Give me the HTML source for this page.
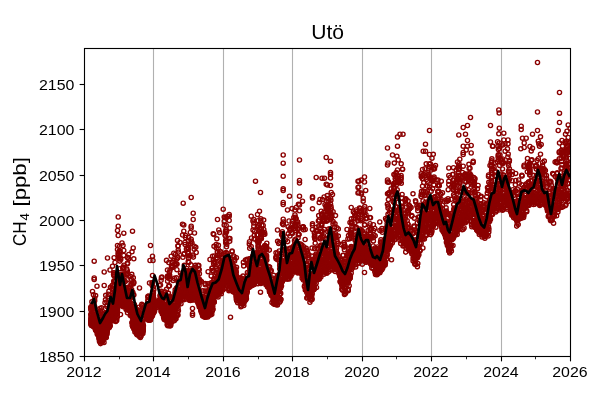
<!DOCTYPE html><html><head><meta charset="utf-8"><title>Uto</title><style>html,body{margin:0;padding:0;background:#fff}svg{display:block;will-change:transform}text{font-family:"Liberation Sans",sans-serif;fill:#000}</style></head><body>
<svg width="600" height="400" viewBox="0 0 600 400">
<rect width="600" height="400" fill="#fff"/>
<defs><marker id="m" markerUnits="userSpaceOnUse" markerWidth="8" markerHeight="8" refX="4" refY="4" viewBox="0 0 8 8"><circle cx="4" cy="4" r="2.08" fill="none" stroke="#8b0000" stroke-width="1.39"/></marker><clipPath id="c"><rect x="84.5" y="48.5" width="486" height="308"/></clipPath></defs>
<line x1="153.5" y1="48.5" x2="153.5" y2="356.5" stroke="#b0b0b0" stroke-width="1.11"/>
<line x1="223.5" y1="48.5" x2="223.5" y2="356.5" stroke="#b0b0b0" stroke-width="1.11"/>
<line x1="292.5" y1="48.5" x2="292.5" y2="356.5" stroke="#b0b0b0" stroke-width="1.11"/>
<line x1="362.5" y1="48.5" x2="362.5" y2="356.5" stroke="#b0b0b0" stroke-width="1.11"/>
<line x1="431.5" y1="48.5" x2="431.5" y2="356.5" stroke="#b0b0b0" stroke-width="1.11"/>
<line x1="501.5" y1="48.5" x2="501.5" y2="356.5" stroke="#b0b0b0" stroke-width="1.11"/>
<g clip-path="url(#c)"><polyline fill="none" stroke="none" marker-start="url(#m)" marker-mid="url(#m)" marker-end="url(#m)" points="473.1,204.6 415.0,260.9 250.3,276.0 413.3,244.8 208.1,271.7 545.8,202.9 136.6,312.3 302.6,276.7 515.8,219.1 425.2,220.2 442.7,212.2 196.2,295.2 129.7,288.3 218.4,283.0 481.9,230.0 152.7,310.6 134.6,326.0 377.7,250.4 379.2,263.7 503.4,174.9 536.4,175.5 540.4,204.5 328.0,263.9 219.2,253.5 307.3,277.3 524.0,198.2 253.6,277.3 93.0,316.8 123.3,296.3 175.2,289.7 302.1,278.3 162.7,310.4 233.3,272.9 224.5,273.2 215.6,290.2 322.2,261.0 192.3,283.0 208.7,305.4 177.0,292.4 504.2,180.4 176.1,305.7 451.8,186.5 190.9,275.3 455.1,211.9 210.2,302.5 131.3,279.3 387.1,235.9 397.5,182.1 174.2,305.9 209.6,313.8 129.4,308.0 510.4,211.4 296.2,271.4 387.2,253.8 95.3,327.4 272.3,291.6 223.0,269.8 118.5,281.3 171.5,308.1 205.8,298.9 266.6,284.3 333.9,255.3 226.2,285.5 225.8,261.2 131.6,297.3 321.7,256.4 512.0,180.7 148.0,300.1 449.3,222.4 257.0,272.9 94.9,320.9 293.4,265.2 511.6,211.1 132.5,318.0 322.8,250.7 321.4,262.1 429.8,222.8 221.9,263.5 414.3,218.2 257.3,271.3 459.1,216.7 112.7,304.7 229.9,283.0 117.3,293.1 456.6,226.7 91.3,317.0 135.1,307.6 462.9,202.5 173.8,253.2 346.7,273.4 294.9,245.4 168.8,316.9 214.0,246.3 564.0,191.9 428.1,217.6 437.5,201.7 440.8,200.9 175.7,319.1 511.6,193.8 512.9,192.4 454.0,225.2 386.4,259.3 242.2,303.5 123.1,306.8 516.0,218.1 175.8,308.1 161.1,307.6 169.4,285.7 511.3,211.0 327.8,231.7 254.1,281.9 569.9,176.2 352.5,264.7 236.1,294.3 266.4,260.2 424.4,239.0 148.3,319.5 454.3,209.8 318.5,270.0 300.4,243.9 159.3,306.2 293.4,256.4 457.3,231.2 388.0,214.3 111.6,307.1 196.0,279.5 191.0,264.9 561.3,195.7 112.0,320.6 193.9,297.1 105.7,331.0 403.9,213.1 256.3,267.9 108.0,322.0 295.3,263.1 269.4,289.5 196.7,282.9 421.5,191.4 316.4,278.2 142.9,333.5 379.9,272.7 333.1,211.7 524.9,204.3 555.4,206.2 479.0,215.1 269.9,278.7 320.4,260.5 163.0,308.3 378.7,268.3 197.3,300.7 494.6,204.5 403.3,226.8 553.7,194.9 398.6,226.5 546.0,197.2 487.2,234.6 181.7,274.9 193.0,293.6 502.6,158.9 249.7,259.1 419.9,242.9 299.4,259.2 485.1,236.4 252.3,271.8 124.9,304.3 319.8,251.4 350.1,277.9 266.3,279.1 510.9,200.0 309.7,277.2 559.2,198.7 309.3,296.9 453.2,174.5 128.1,287.3 478.6,206.0 163.5,315.1 150.5,318.1 223.2,261.5 107.2,329.5 377.0,274.8 547.3,196.3 172.0,316.2 447.7,244.0 216.0,258.4 543.1,184.7 550.2,203.7 249.3,243.9 182.8,275.7 169.4,296.3 192.1,275.1 117.8,303.1 558.9,191.4 275.0,297.7 294.3,248.8 397.7,233.1 337.8,258.7 249.4,287.2 259.2,255.1 325.4,263.5 108.5,294.2 307.9,292.1 242.5,288.2 209.3,290.3 275.6,283.1 288.6,263.8 425.3,212.8 486.6,203.5 230.9,281.3 152.7,305.6 450.7,249.0 297.6,257.8 151.0,316.0 333.0,256.0 432.4,205.9 122.5,298.2 326.6,259.8 115.4,290.2 558.8,207.1 171.8,307.5 529.9,172.6 174.5,315.1 260.7,236.8 113.4,297.0 266.7,249.8 149.1,311.4 174.0,315.8 523.5,189.9 113.7,299.9 122.0,274.8 437.2,222.6 264.9,278.4 462.0,217.8 514.0,202.4 175.2,293.4 479.3,206.6 275.7,298.5 404.5,237.5 90.8,321.9 232.0,275.6 123.7,289.6 122.4,287.8 546.6,178.3 163.4,310.5 250.8,269.2 422.9,248.0 228.6,275.2 256.6,255.2 440.6,216.1 312.3,284.2 310.2,289.5 446.7,221.2 298.1,237.7 361.2,192.9 380.6,271.0 446.4,211.1 478.5,219.5 539.5,198.9 291.9,228.5 405.1,214.2 125.8,306.8 236.2,272.2 168.4,310.3 409.3,208.7 147.9,296.5 211.8,282.7 171.1,320.6 480.8,231.5 207.6,308.2 128.9,294.6 432.7,188.6 387.4,234.1 499.0,189.5 237.4,280.7 503.6,205.9 212.0,299.3 160.2,302.2 536.1,194.4 361.4,252.5 310.0,290.3 283.9,250.4 261.3,277.3 512.4,171.7 149.9,318.7 315.1,275.7 370.1,233.0 404.9,234.7 441.5,226.9 431.2,229.6 463.6,216.1 373.4,224.7 268.6,282.9 139.0,326.2 94.9,327.0 234.5,269.5 311.0,283.7 364.8,259.0 347.8,270.5 495.5,195.5 327.3,266.2 553.6,202.2 502.3,196.0 100.5,325.4 282.3,279.6 324.7,250.9 123.7,304.6 186.9,287.9 528.5,198.8 254.3,254.9 409.6,237.6 107.5,320.5 120.5,294.5 294.7,269.6 373.5,257.5 226.5,272.4 446.9,239.4 557.2,173.6 154.3,304.1 136.8,317.5 92.9,318.7 362.3,264.2 522.1,176.1 289.4,256.2 315.7,260.7 353.2,260.2 119.7,300.6 458.6,227.6 279.7,288.7 404.6,224.2 230.3,281.4 278.6,290.3 209.3,301.3 374.5,254.0 382.4,232.3 213.1,309.3 304.8,271.9 96.9,316.3 464.3,192.5 521.1,212.3 230.5,262.1 264.2,277.2 283.0,235.2 267.8,279.9 448.4,244.9 418.5,216.9 301.7,263.4 215.7,295.7 504.5,201.4 478.7,218.4 190.5,243.7 385.7,228.0 289.1,275.0 351.7,230.4 358.9,242.5 446.7,234.1 121.3,282.5 170.0,326.0 259.8,282.6 210.2,299.5 362.3,259.3 114.1,315.0 443.4,217.8 291.9,250.0 120.7,286.9 445.2,220.9 362.4,236.6 241.2,282.2 116.6,319.0 219.0,274.9 202.3,302.1 362.3,231.1 229.9,284.3 175.3,264.5 195.6,267.4 445.8,224.5 539.0,197.9 519.8,205.9 233.2,275.7 336.6,248.1 149.3,319.4 389.2,247.9 228.3,259.8 377.5,248.7 355.2,240.5 452.9,224.7 91.5,321.6 163.5,314.0 385.6,250.6 364.6,215.8 519.4,212.5 459.0,206.8 252.1,282.0 206.1,308.0 219.4,282.8 392.0,219.8 147.9,301.3 255.8,266.2 147.8,307.8 488.3,207.1 490.6,195.2 213.1,271.2 391.5,227.0 188.5,277.9 370.5,261.9 240.1,302.0 339.9,275.8 131.8,274.4 160.3,307.6 451.7,216.0 522.9,196.5 299.7,266.9 567.3,169.5 227.0,275.2 197.5,281.4 386.2,243.2 373.8,251.7 340.4,281.2 103.4,326.5 121.8,288.4 493.0,187.5 388.0,229.5 240.9,306.8 366.2,255.6 511.4,213.8 138.4,328.5 184.8,290.7 248.8,284.6 262.4,261.8 351.8,238.0 216.8,279.3 245.3,297.8 550.7,196.6 305.3,290.1 167.9,308.6 200.8,300.1 283.8,270.9 150.4,318.9 318.5,273.3 511.9,214.3 540.1,199.6 392.1,223.1 129.3,301.5 404.6,244.3 400.3,230.4 442.1,230.2 554.5,212.9 152.9,298.8 345.2,246.3 499.7,194.5 460.9,220.1 538.9,194.5 404.0,234.8 194.4,282.2 130.1,304.1 265.6,246.0 117.3,313.9 314.7,266.4 331.4,235.0 202.8,298.3 393.2,217.3 442.4,205.2 212.3,310.9 189.6,295.0 308.1,284.7 118.8,297.9 290.5,263.0 131.1,294.4 566.0,204.3 123.9,303.0 232.2,281.3 273.1,296.9 489.0,219.4 521.7,211.4 372.5,255.1 116.0,304.7 171.9,308.5 547.7,210.2 169.2,322.2 381.0,266.0 444.5,225.3 153.9,298.8 279.6,302.2 307.4,297.3 99.0,331.7 539.0,196.7 367.6,241.0 408.5,243.4 551.4,185.3 356.2,256.9 259.8,252.2 177.9,281.5 375.7,265.6 445.9,212.2 363.7,239.4 494.1,200.8 159.4,303.3 481.3,231.0 540.3,174.9 273.2,289.5 376.7,256.9 215.3,290.9 435.6,205.1 277.9,290.3 318.7,265.4 527.5,202.4 114.1,281.7 459.9,182.9 92.5,291.5 454.2,207.9 326.6,258.3 251.9,270.4 236.1,296.7 397.1,224.7 443.1,221.3 214.5,280.0 459.6,210.0 559.3,158.7 364.0,258.5 250.6,280.9 162.1,298.9 392.4,239.7 164.3,311.6 161.4,299.0 411.0,245.6 116.5,310.5 420.3,236.1 185.3,270.5 493.4,208.3 103.0,333.5 153.2,305.3 258.3,277.5 556.4,209.6 220.5,284.0 209.3,286.8 373.4,254.7 178.0,315.1 358.4,256.1 192.1,295.4 188.9,262.5 344.4,286.7 518.1,214.0 346.7,276.4 122.4,295.6 465.3,189.2 127.3,279.9 227.4,271.4 114.5,298.1 286.6,262.3 396.0,226.3 484.2,236.6 269.2,280.8 184.8,296.1 115.1,291.1 421.8,205.4 300.2,272.7 367.3,258.0 321.2,244.9 349.3,265.6 481.9,227.4 234.2,275.4 441.7,226.2 220.8,276.7 455.8,229.9 384.6,244.6 317.9,277.6 439.5,205.7 121.5,290.4 433.9,220.2 201.3,303.4 475.1,212.4 185.1,283.7 332.5,233.1 133.2,325.5 362.5,256.8 528.1,197.5 198.1,303.4 366.0,261.9 538.5,172.1 95.9,328.7 273.7,289.2 375.4,269.9 552.4,190.2 135.9,328.5 273.1,285.3 299.8,272.1 174.2,320.7 426.7,193.0 305.3,255.7 538.3,158.7 319.6,274.2 263.8,266.1 293.0,268.5 191.6,292.9 167.1,316.1 119.7,283.8 256.7,253.7 417.7,231.6 433.9,207.2 406.3,237.5 99.8,329.4 272.7,291.1 151.8,311.8 169.7,312.8 432.3,216.7 189.4,300.2 192.2,289.0 269.7,285.5 479.1,227.3 262.0,272.9 284.2,270.2 518.6,214.9 387.9,226.5 98.6,335.6 201.2,301.7 289.4,273.6 559.0,196.0 527.9,183.0 357.8,249.6 507.6,199.4 525.5,207.6 566.6,163.4 409.6,241.4 321.4,271.6 431.7,201.5 546.9,208.4 313.0,280.7 421.7,230.6 113.3,302.8 369.8,256.6 236.4,296.0 230.7,280.7 379.2,263.3 569.6,158.4 508.6,203.1 132.8,322.2 528.7,182.0 458.2,226.7 449.2,246.0 234.6,275.2 163.9,308.3 267.5,275.5 175.2,295.5 209.9,294.9 119.5,301.0 283.8,258.6 205.6,315.7 250.3,286.6 142.2,332.6 97.7,328.3 410.2,245.1 220.3,269.9 544.0,200.5 148.3,306.9 458.4,176.1 266.1,277.9 107.6,318.0 258.2,220.7 98.9,334.3 324.4,248.9 193.8,269.0 457.4,224.7 370.4,256.3 492.5,214.5 188.7,278.3 274.0,299.4 508.5,171.8 220.5,284.4 405.1,219.3 95.9,318.6 246.2,282.0 398.4,194.9 529.8,174.5 122.2,302.4 328.6,228.9 433.6,224.9 97.5,325.2 515.7,173.4 208.1,307.1 295.9,254.1 258.6,269.8 224.0,277.3 176.4,299.6 280.3,300.9 192.7,289.1 149.9,318.2 485.7,230.2 215.6,286.6 213.1,300.4 298.8,234.6 388.5,249.8 192.3,282.6 323.6,236.0 470.0,193.2 378.3,252.3 250.6,276.6 305.2,267.4 314.0,289.3 277.2,298.6 142.9,305.6 213.4,301.5 356.9,257.9 266.3,271.2 225.1,282.2 234.3,270.6 195.3,277.9 274.9,303.3 146.9,309.6 146.6,315.4 233.4,292.1 254.4,259.7 559.1,193.4 105.3,330.2 495.4,195.5 143.0,327.1 277.1,290.5 470.4,215.6 320.3,264.4 222.8,270.6 553.7,196.5 402.1,194.5 102.4,320.5 187.8,286.2 268.4,277.4 447.0,226.8 483.4,230.8 161.2,303.6 115.5,298.7 235.1,274.3 249.2,272.4 276.6,278.0 363.7,252.3 271.7,285.5 194.3,297.1 282.3,271.9 305.5,282.0 353.9,253.0 153.7,311.1 474.7,224.6 207.4,297.8 517.7,214.6 312.2,293.5 97.2,333.9 355.7,235.0 126.3,296.7 332.9,264.7 196.6,295.9 493.8,208.5 453.5,189.2 373.1,257.5 184.7,288.5 338.1,271.2 298.1,269.9 124.7,304.7 541.9,182.9 465.3,191.9 126.2,287.9 291.5,251.2 163.7,306.7 404.6,222.9 536.6,194.2 566.7,152.6 127.1,309.1 202.3,298.2 478.3,227.0 374.0,249.3 269.8,292.1 91.7,318.2 315.2,264.2 166.2,313.2 193.5,296.0 292.9,256.7 104.2,331.6 120.3,304.1 292.0,208.6 137.8,329.3 459.4,217.1 212.7,298.8 565.9,143.2 123.0,303.1 307.2,291.1 229.0,289.3 327.5,254.8 114.5,301.4 109.7,323.0 530.7,196.2 443.2,229.3 460.4,175.2 549.8,198.1 362.3,248.3 380.8,257.7 203.0,315.1 197.0,291.4 351.4,218.8 351.7,261.0 225.4,260.5 215.1,263.6 325.0,249.1 373.0,258.2 288.0,260.2 347.9,257.7 330.9,237.8 96.6,327.3 562.3,182.0 358.1,249.1 482.4,228.2 122.0,295.2 517.2,223.1 216.4,285.8 216.3,295.3 196.5,288.2 209.4,286.0 533.5,197.3 400.3,208.8 167.8,321.8 93.6,316.8 509.1,199.8 174.5,306.8 103.2,320.0 319.7,275.5 307.7,280.3 502.5,162.6 327.0,238.5 93.3,319.3 192.4,287.9 208.9,303.6 277.5,281.1 174.1,307.8 166.8,319.8 165.9,308.4 264.1,267.2 319.2,271.2 502.8,197.1 373.8,262.5 229.6,277.6 161.9,277.1 459.8,191.4 303.4,227.1 306.8,298.1 527.0,187.4 141.2,323.9 125.0,292.1 227.5,279.8 91.4,320.7 342.1,280.0 549.7,215.2 457.8,217.6 240.2,300.6 100.0,308.6 444.2,212.9 505.8,187.2 502.5,162.3 356.0,216.2 378.5,260.2 459.7,179.9 203.6,303.8 147.7,312.8 94.8,315.1 127.6,293.4 264.8,270.8 534.2,199.8 246.4,298.7 105.2,335.3 497.0,184.7 307.5,281.5 397.2,207.2 138.4,333.9 339.9,268.0 229.0,287.0 208.0,304.7 103.5,313.9 322.6,271.8 112.4,312.6 132.4,325.7 391.8,235.8 327.4,250.9 485.5,212.2 121.6,284.7 469.2,211.3 167.7,319.5 111.2,315.3 347.9,262.0 250.4,283.1 199.1,278.9 199.6,296.4 339.2,273.9 196.5,288.9 194.9,288.2 420.6,224.7 328.8,266.9 183.3,281.7 192.7,281.8 136.7,324.2 540.5,154.2 425.8,235.6 134.0,324.4 252.9,280.7 389.5,212.4 285.5,239.9 403.8,232.0 325.5,250.8 280.7,287.9 100.9,328.6 317.4,279.3 221.3,283.4 426.3,218.1 539.4,197.8 107.7,328.9 369.4,261.3 257.0,266.1 528.5,185.6 252.0,258.7 395.5,234.5 411.9,249.0 337.7,266.8 167.0,313.7 488.3,219.4 129.1,309.0 505.8,197.9 503.0,188.5 93.5,326.5 136.8,325.6 132.2,322.9 401.2,207.0 439.9,213.0 120.4,293.6 313.4,289.8 435.0,205.3 509.5,179.4 212.1,310.0 338.3,236.1 549.5,204.8 359.8,247.5 422.9,216.5 530.6,193.7 398.6,232.6 183.2,285.8 369.4,253.5 264.3,267.0 320.1,273.7 391.3,237.8 274.6,289.7 185.1,282.2 392.9,198.3 251.0,282.0 491.6,166.5 293.6,246.2 361.5,194.1 474.3,192.6 317.2,248.6 105.8,328.9 453.0,245.5 168.1,316.9 519.8,210.4 382.6,244.0 502.7,144.9 295.7,270.2 489.5,200.3 161.3,306.1 473.7,201.7 447.3,230.9 529.8,169.7 249.0,286.9 216.1,278.9 239.8,287.3 333.5,252.3 363.8,239.9 152.1,306.9 325.2,245.6 245.7,297.6 536.3,199.4 336.7,253.5 253.4,276.3 140.7,333.6 151.1,317.2 342.4,272.4 411.6,250.6 489.8,212.5 373.4,240.9 245.0,287.0 175.9,318.8 135.2,322.7 429.6,185.9 219.3,292.5 529.7,172.0 101.5,334.2 201.6,309.2 363.9,240.7 199.1,280.6 561.0,168.6 530.0,199.0 91.7,314.8 410.1,234.6 304.4,271.0 218.1,278.5 499.3,128.2 171.8,317.2 149.8,316.2 379.5,263.2 394.4,202.4 464.8,215.3 230.3,263.4 407.7,242.8 452.7,238.5 229.8,228.2 302.0,270.5 165.7,294.3 427.0,205.6 165.7,314.9 304.5,286.0 550.8,219.5 113.3,309.9 374.6,253.1 339.0,267.5 460.5,208.3 381.8,230.2 189.4,298.5 361.1,247.9 235.2,287.3 480.6,204.3 552.0,218.1 135.1,320.5 246.1,295.7 515.4,184.8 109.0,302.9 266.2,274.4 169.6,279.0 132.5,325.7 351.7,232.5 506.9,188.4 290.1,264.6 266.7,282.4 240.8,303.0 559.3,152.7 94.0,304.7 291.3,264.4 393.1,201.5 134.5,320.3 515.5,216.5 139.6,332.7 437.8,185.8 138.5,332.6 566.3,141.3 161.3,302.3 320.5,258.5 308.6,295.2 301.4,272.1 248.6,278.3 349.1,257.1 386.4,255.3 314.3,232.8 414.6,256.0 214.6,292.0 218.7,284.4 117.0,294.6 249.2,277.8 274.3,299.2 533.5,199.6 122.9,286.2 253.9,276.5 400.7,243.5 475.9,226.4 105.4,308.5 202.6,315.9 322.2,236.4 410.5,230.2 486.7,196.7 263.8,273.8 209.1,296.6 324.8,271.3 169.1,310.4 516.7,220.4 433.2,180.5 456.9,212.0 247.4,286.9 257.2,252.3 340.9,273.2 341.7,275.2 366.1,262.2 532.5,201.0 136.1,332.1 169.0,309.4 527.8,204.0 305.6,272.4 217.1,283.1 337.3,263.8 346.0,277.0 413.1,258.3 491.9,158.8 545.4,170.4 185.5,277.2 536.2,198.4 520.6,201.0 376.2,259.3 442.5,192.8 362.9,245.6 521.6,191.0 520.0,200.4 132.1,308.0 261.8,279.8 424.5,195.5 295.5,239.2 361.0,254.8 445.7,237.8 305.3,284.5 115.3,311.8 508.6,190.0 278.4,275.0 415.0,246.4 222.8,288.8 427.9,228.1 176.6,299.1 407.4,238.6 359.0,251.3 299.0,234.6 139.1,330.2 238.5,278.2 433.7,169.0 171.7,314.8 297.0,267.7 461.8,207.1 332.8,234.1 458.7,216.0 357.6,258.5 380.3,267.3 282.4,281.6 173.7,307.2 315.0,281.7 255.3,273.0 114.9,313.6 210.8,292.6 551.6,205.5 292.0,255.4 198.8,300.9 373.1,268.6 303.6,273.0 186.4,294.1 491.7,172.5 359.3,234.5 285.1,260.9 257.8,273.7 564.2,173.1 474.4,213.0 518.6,180.0 216.1,291.6 553.1,208.8 359.0,263.0 109.3,318.9 465.4,222.8 468.2,192.5 150.0,319.9 159.6,301.7 287.6,241.6 512.3,210.0 125.0,303.4 122.9,288.9 451.2,214.1 467.0,209.4 336.0,261.9 322.7,270.4 161.4,293.5 213.7,295.1 503.7,197.5 371.8,264.7 226.8,285.2 181.8,276.2 264.0,278.6 244.3,292.3 148.7,312.3 208.0,283.9 335.6,266.9 457.5,198.8 180.3,295.4 387.1,223.8 285.5,254.4 325.8,255.0 134.6,327.1 567.4,198.2 194.7,286.1 563.7,185.3 240.3,295.2 255.5,279.6 319.9,273.7 319.9,246.2 172.9,310.1 479.9,219.5 220.6,291.9 277.6,277.2 403.9,237.3 167.6,281.2 491.7,203.4 159.2,301.1 509.3,174.8 227.3,269.5 225.3,261.0 473.9,183.1 166.9,311.0 178.6,302.1 503.4,205.0 349.7,238.8 468.2,211.5 95.7,317.6 227.5,265.5 199.3,307.1 473.1,201.9 165.1,305.6 223.9,284.5 419.1,235.3 538.7,203.9 369.1,239.3 122.9,305.4 104.7,325.0 384.4,241.4 279.2,291.7 490.5,219.2 415.3,250.2 403.9,245.6 308.2,289.2 311.1,296.3 260.4,279.1 99.0,336.6 370.2,251.7 392.3,243.0 219.7,255.5 566.6,194.1 210.6,308.3 272.0,294.1 214.8,284.7 173.7,302.4 199.4,273.7 96.8,320.0 109.1,321.7 413.9,226.1 439.6,220.9 328.9,271.6 321.2,248.1 484.7,222.6 457.5,229.6 361.9,254.0 551.6,212.4 358.1,237.8 395.1,229.5 388.0,237.0 387.2,235.1 494.0,204.0 569.2,176.6 484.9,238.3 325.8,266.5 195.7,268.0 147.8,316.3 517.0,219.2 151.4,316.8 241.4,284.8 314.6,237.0 208.8,299.6 489.4,212.6 566.4,164.6 108.5,315.3 294.6,260.1 315.0,260.1 296.0,262.5 474.8,206.9 164.8,296.4 98.6,333.2 249.7,283.8 197.2,301.4 147.0,315.4 448.1,240.0 132.8,313.4 247.5,280.9 229.9,238.6 463.7,201.1 536.8,187.1 330.7,249.1 278.0,281.1 246.4,284.2 113.3,318.6 512.9,189.7 96.0,316.9 442.0,214.2 187.3,293.3 301.0,259.9 252.1,265.1 266.8,243.2 367.5,259.8 309.2,289.0 456.6,218.9 423.6,227.1 210.5,294.8 513.4,195.6 465.6,212.2 215.6,287.3 104.9,329.3 497.1,208.1 95.0,321.9 168.7,312.4 408.6,239.6 148.1,318.9 199.5,292.1 139.0,324.1 179.1,303.1 203.5,305.3 480.6,196.8 210.0,302.5 538.3,141.2 163.0,296.2 382.8,260.0 341.9,289.1 380.5,253.8 260.9,283.5 91.3,317.9 254.4,253.7 176.1,299.1 389.5,230.1 171.2,297.1 356.4,251.1 121.3,296.5 541.8,197.9 188.5,258.3 505.1,151.2 170.7,325.3 515.0,207.6 445.9,213.0 399.8,213.3 316.4,278.5 94.0,320.0 455.4,219.6 436.8,214.1 458.4,225.1 161.3,307.0 463.7,208.1 268.8,287.2 400.0,240.6 161.1,280.3 454.0,218.8 225.8,277.2 435.9,227.2 147.3,312.6 108.4,298.7 417.9,256.2 488.2,235.9 515.4,190.6 453.7,226.4 500.0,154.9 508.1,197.7 397.6,218.8 421.0,218.7 124.4,303.8 322.8,263.2 355.0,253.2 295.3,268.8 506.6,195.1 398.8,217.9 261.8,277.9 462.6,223.6 439.9,208.2 323.4,265.2 356.0,249.8 232.9,290.5 245.5,286.0 137.3,328.9 521.7,207.4 264.0,251.0 283.4,221.9 315.7,260.2 539.1,198.2 176.5,259.2 149.2,319.9 399.6,226.7 309.4,293.3 340.1,273.2 396.1,198.8 458.3,205.6 102.0,341.8 170.9,317.8 297.1,259.1 301.7,248.8 513.7,217.7 150.5,314.0 184.1,279.0 517.3,189.1 160.4,300.7 127.5,312.8 402.2,202.2 413.9,257.5 299.3,264.2 291.0,275.8 481.5,211.1 534.2,184.7 560.8,198.8 170.1,317.2 268.1,268.9 178.0,246.1 182.5,284.1 91.5,317.4 426.3,179.6 98.0,321.4 98.4,332.0 450.7,228.7 347.1,267.2 217.2,291.0 367.1,249.9 257.3,279.0 450.8,213.5 518.7,218.8 91.3,323.6 444.7,222.0 457.5,190.9 220.7,273.4 424.4,229.6 273.7,302.4 232.5,286.9 367.7,239.3 454.7,235.3 526.6,210.5 154.0,309.7 427.9,203.7 362.0,242.0 486.6,208.8 425.5,231.8 194.4,272.5 279.0,255.7 122.8,299.7 405.7,252.1 249.7,258.7 207.9,310.2 487.3,193.1 534.9,204.1 101.9,336.5 478.4,217.7 466.8,217.8 443.3,212.3 160.2,296.2 440.5,207.2 115.8,320.5 262.3,279.9 365.6,258.9 116.8,313.5 335.2,265.6 271.2,294.9 143.1,331.2 159.9,301.3 184.2,293.0 396.5,219.6 167.8,325.8 148.2,315.7 335.6,265.8 208.2,299.7 110.9,312.8 414.9,264.2 526.4,188.0 550.7,209.7 563.5,198.4 285.3,274.8 287.3,279.1 253.6,265.5 543.7,200.1 142.4,331.0 363.2,251.6 261.0,262.1 200.3,305.0 147.3,319.6 109.5,308.5 508.2,198.7 146.8,318.5 101.5,307.9 330.6,255.4 109.5,313.4 301.7,253.2 275.9,294.0 566.4,157.1 551.1,212.3 284.4,272.9 533.6,202.2 171.4,312.4 428.6,228.8 201.2,308.9 206.1,302.9 209.6,300.5 260.2,254.8 278.4,275.8 288.4,278.5 160.9,306.1 139.0,307.2 337.1,260.1 568.1,195.9 142.8,322.5 285.1,264.1 476.2,225.5 506.4,200.2 101.9,338.2 541.4,196.2 161.2,302.7 349.3,274.6 514.7,201.6 104.9,323.2 474.6,187.5 184.9,242.5 411.9,254.1 279.7,268.8 196.3,295.0 188.8,280.6 569.7,164.7 96.8,323.3 361.0,258.0 244.3,292.7 150.5,297.8 301.7,251.8 545.3,190.1 440.1,216.4 216.3,266.6 287.3,262.0 385.2,265.1 199.7,290.7 164.3,304.2 384.4,260.3 244.9,287.8 124.1,273.9 117.9,298.1 498.5,198.6 97.0,331.7 388.0,208.1 109.1,308.8 507.3,197.4 210.0,312.3 249.8,274.3 333.6,260.9 318.4,272.1 235.4,273.9 566.7,160.1 133.6,295.1 382.2,245.9 329.4,254.7 231.2,279.9 387.1,219.2 550.8,220.7 447.7,229.8 400.8,231.1 263.8,282.5 368.9,238.5 213.8,293.2 398.0,228.1 401.9,214.1 151.2,309.7 257.7,277.9 167.4,307.1 264.8,245.4 122.6,282.6 416.4,246.8 284.7,277.2 135.1,330.1 341.4,277.2 396.3,215.4 238.9,295.9 285.3,275.6 160.4,300.4 236.2,290.3 265.6,279.6 485.2,234.8 197.5,295.2 447.4,227.6 162.1,310.2 214.8,284.3 431.6,213.6 422.9,178.6 93.1,325.4 445.1,230.3 482.3,220.5 444.6,233.1 537.9,203.1 215.0,261.5 479.9,206.4 152.6,311.7 130.0,294.4 138.5,316.5 166.3,305.7 463.9,217.7 371.1,238.3 203.6,312.2 110.2,325.8 135.6,311.2 220.6,284.9 223.3,284.0 490.7,206.9 365.1,252.1 295.5,259.3 205.9,309.4 376.1,249.3 478.7,230.0 350.5,268.4 110.1,315.2 535.4,193.1 127.9,300.6 490.8,208.0 201.3,312.1 356.6,245.5 379.0,259.3 538.1,187.6 166.1,313.5 268.8,275.0 100.3,341.4 243.7,265.9 437.8,192.1 371.8,267.9 243.1,290.1 418.8,236.6 149.6,315.1 132.1,322.2 119.6,268.7 474.0,209.1 330.4,241.1 136.7,329.6 400.2,235.8 406.2,248.4 512.3,207.5 388.3,206.1 355.5,247.0 310.3,281.5 216.2,244.6 209.2,309.3 437.7,195.7 491.3,177.5 194.8,289.0 358.4,251.4 132.3,323.3 502.7,198.9 555.3,188.7 99.5,332.7 502.6,163.5 497.8,196.6 266.3,278.3 277.6,259.7 97.8,332.6 337.8,270.0 269.3,250.1 269.7,284.4 173.1,280.4 377.6,259.7 215.5,286.3 567.7,183.3 395.6,206.4 185.9,292.0 500.9,174.0 286.8,275.5 208.9,312.3 240.9,283.0 381.8,264.3 338.4,270.7 496.2,197.6 139.0,311.7 103.2,331.2 373.9,234.9 423.2,218.9 498.4,206.8 315.3,277.2 405.5,243.7 264.6,270.0 489.0,210.2 400.6,234.9 422.5,218.2 302.6,271.4 277.6,241.3 367.6,250.8 152.2,313.7 322.7,267.8 358.8,242.5 347.6,254.3 383.1,249.8 117.3,311.4 237.7,302.7 341.6,272.5 190.8,280.1 473.8,226.2 232.3,263.3 546.6,206.0 105.5,330.6 380.3,259.4 505.8,204.8 339.6,273.4 348.8,251.8 130.2,302.2 189.2,297.4 507.7,183.6 326.2,272.2 429.2,216.6 417.8,246.9 175.2,316.9 110.3,310.4 101.8,322.8 201.7,303.5 469.3,213.7 162.9,297.6 190.6,270.9 188.4,281.5 179.6,281.9 148.1,297.6 534.7,198.4 236.5,275.9 143.1,308.0 323.4,263.6 345.9,259.5 382.6,249.0 420.1,250.7 180.9,297.7 299.6,270.4 178.0,305.5 171.3,322.8 409.4,243.8 359.9,228.9 195.8,281.0 252.3,285.5 172.0,312.4 385.0,254.0 121.0,284.8 243.9,285.0 492.6,184.2 480.0,225.1 193.3,287.6 218.1,296.9 221.9,269.5 189.5,276.6 283.0,261.3 240.1,290.1 127.3,300.5 453.3,235.8 210.8,300.1 150.4,315.3 260.8,270.5 204.7,317.3 281.5,286.0 138.4,332.9 127.5,302.9 124.9,301.3 168.5,317.1 130.5,297.7 179.1,281.1 268.5,283.8 529.1,205.3 539.7,188.0 459.8,224.5 278.4,277.2 447.6,239.6 250.6,276.3 112.5,316.2 306.1,283.7 503.5,209.4 176.7,306.6 152.6,306.2 305.8,283.4 236.5,267.3 93.1,325.8 473.1,212.7 101.2,327.2 148.7,311.8 294.5,250.6 442.3,220.9 145.8,307.4 149.2,303.9 258.1,244.9 529.6,195.0 306.5,284.8 309.9,302.3 542.7,162.5 348.6,279.3 118.2,255.5 105.0,337.7 299.1,262.1 203.3,312.3 399.8,235.1 354.3,256.7 225.3,280.3 106.3,332.2 425.3,227.2 152.5,298.2 122.7,287.9 394.8,239.7 564.2,198.6 462.1,201.7 106.7,332.9 441.2,213.5 250.1,268.2 122.0,292.3 289.0,221.0 168.3,316.0 216.1,293.7 278.5,277.0 503.8,198.9 480.8,200.0 209.2,302.2 446.3,201.8 537.0,181.2 458.4,223.8 438.6,199.1 171.3,311.8 127.7,310.1 333.3,245.0 133.8,310.3 400.4,218.4 331.8,216.5 481.7,229.9 399.0,224.9 320.6,237.5 564.8,193.0 308.2,268.2 222.4,257.3 518.6,197.6 136.9,326.1 546.4,204.0 425.2,202.4 149.1,308.8 284.4,275.8 541.5,199.1 349.3,279.3 549.3,216.9 210.1,294.4 356.1,239.9 188.1,273.3 394.2,187.8 180.4,297.8 186.3,293.8 95.6,295.6 300.3,256.0 274.4,283.3 562.7,194.0 498.9,210.0 191.4,282.1 512.5,212.7 241.8,288.5 546.3,184.0 125.2,296.6 451.6,221.0 266.8,283.9 261.9,279.3 207.1,305.6 459.7,202.6 304.5,286.8 332.0,248.6 375.3,262.5 130.3,307.3 230.1,284.8 379.6,268.9 258.9,280.8 97.5,327.5 325.8,243.1 109.9,326.0 437.9,209.7 200.0,281.7 161.2,309.2 288.9,272.1 376.9,251.8 395.4,182.7 351.8,254.8 408.9,228.1 483.5,232.5 374.8,228.5 251.3,284.5 529.1,183.5 540.5,175.1 409.3,248.3 408.3,240.7 201.2,296.4 247.4,272.5 540.4,188.7 188.0,280.0 228.9,274.4 308.8,255.0 463.4,216.7 434.7,206.5 125.5,300.7 416.3,257.1 285.4,278.5 453.3,185.0 567.0,199.5 331.1,244.9 350.2,278.1 534.2,193.7 139.8,312.5 253.0,276.1 458.7,201.3 105.3,337.0 153.8,303.6 192.8,276.6 356.3,248.2 503.3,186.4 484.1,205.0 111.9,319.7 243.4,289.5 552.9,215.0 558.5,199.6 227.3,267.5 354.2,254.3 160.5,285.0 311.9,290.8 300.4,264.7 261.9,259.2 191.7,298.9 376.9,269.5 151.1,313.3 238.0,298.3 279.3,251.0 556.9,196.9 338.0,265.6 173.2,305.5 101.4,332.4 394.9,236.3 250.4,276.5 114.1,285.0 224.3,275.4 128.2,305.8 242.7,304.1 447.7,244.6 561.9,168.1 398.6,235.0 331.9,240.2 319.1,279.3 382.0,269.5 306.6,264.3 212.3,295.9 295.1,243.8 502.9,196.2 173.6,313.5 562.7,196.7 389.6,236.9 249.9,265.8 262.8,264.4 99.0,322.4 415.2,254.0 554.3,216.3 232.2,280.4 462.2,229.7 504.2,177.2 119.4,292.3 324.7,268.4 515.7,191.3 348.5,278.9 201.5,311.1 142.1,322.2 347.9,269.4 510.1,204.1 419.7,239.1 108.9,322.5 431.5,232.9 252.9,279.4 151.4,314.3 256.4,276.4 133.3,327.2 464.4,214.9 280.6,277.7 288.3,274.7 241.9,300.1 529.7,188.4 486.0,225.5 242.1,296.5 257.5,276.2 440.7,211.7 366.4,260.6 497.6,195.5 246.8,289.4 290.4,267.4 334.4,245.6 527.3,171.7 370.0,236.4 205.1,315.9 192.6,291.6 200.7,309.2 392.7,235.7 362.9,250.1 207.5,300.5 551.7,219.4 217.6,285.0 459.8,159.2 128.5,308.3 336.8,239.6 135.1,328.5 256.7,269.8 431.1,212.3 560.8,207.4 446.7,232.5 208.4,291.7 365.8,238.8 98.0,320.6 296.0,255.3 134.3,317.2 321.9,215.5 181.0,303.8 421.0,237.5 262.4,275.7 370.3,234.6 409.0,237.8 163.6,317.2 369.5,254.1 91.6,306.2 380.0,265.6 536.3,180.4 452.3,235.2 248.5,263.0 335.5,233.8 518.2,224.6 228.7,270.9 263.7,220.1 321.8,232.5 413.2,233.5 276.5,301.6 140.1,335.8 330.1,257.3 121.4,296.0 324.2,248.4 391.1,236.2 216.4,268.4 124.0,265.2 392.1,234.0 257.4,278.1 454.4,227.8 476.9,230.0 468.5,173.8 389.4,234.9 365.3,256.1 250.1,278.0 425.1,223.6 132.3,307.3 402.2,230.5 265.5,256.1 286.7,274.8 170.6,307.3 121.7,301.7 355.4,260.1 385.2,257.0 131.1,285.1 190.4,300.5 206.3,311.5 529.0,204.9 353.1,264.9 323.9,274.2 274.8,290.8 361.0,255.6 492.4,196.0 226.7,283.0 211.5,307.1 468.4,180.4 234.5,271.0 281.4,280.4 497.3,195.9 440.5,219.4 259.6,273.2 167.3,321.9 253.5,284.3 377.2,253.5 545.6,202.4 462.5,217.4 248.4,286.7 126.0,297.1 445.0,235.0 96.3,326.0 450.9,237.7 474.5,213.5 218.5,272.9 454.0,220.6 189.5,295.1 140.3,329.4 162.7,306.2 523.9,215.4 297.1,253.0 235.4,292.8 175.9,295.3 122.1,299.5 138.8,319.6 106.8,314.2 108.1,316.2 311.7,295.4 225.7,268.5 486.1,204.2 500.6,201.1 126.0,306.8 153.3,306.8 436.6,207.1 525.0,208.1 472.6,203.2 422.3,232.4 191.8,296.3 153.8,312.4 227.2,253.4 120.5,275.6 190.9,294.7 538.8,168.9 178.4,310.7 506.8,207.4 510.4,199.0 468.6,208.4 473.7,216.6 347.8,267.0 168.3,325.2 121.9,293.8 294.4,270.9 527.6,205.0 328.3,246.8 295.6,248.8 237.9,283.8 262.8,279.0 225.5,273.5 101.0,337.8 419.4,217.2 199.1,285.8 412.5,241.3 512.4,211.8 466.0,203.1 107.9,315.2 558.1,209.4 320.4,231.5 134.0,318.9 202.9,310.5 206.0,315.0 270.8,292.6 286.0,272.1 204.3,312.1 224.5,261.4 439.1,199.7 416.2,231.9 357.6,249.2 271.2,288.7 219.3,293.0 283.0,261.2 508.5,204.8 115.2,297.9 332.0,243.8 327.2,267.1 142.1,315.6 139.1,327.7 501.6,206.0 283.0,243.2 217.3,295.4 412.7,245.4 422.9,213.6 190.5,285.3 295.2,264.2 339.9,276.6 544.4,194.7 362.9,246.0 133.3,322.3 243.3,301.8 164.6,304.3 357.6,253.0 493.4,210.1 217.4,293.0 292.0,269.5 305.4,276.1 100.8,322.6 149.9,317.5 276.6,303.5 324.8,253.9 338.3,228.9 300.4,263.7 99.9,328.9 351.9,228.9 164.5,313.2 208.7,312.9 541.6,200.2 454.6,232.4 319.0,257.5 244.8,295.6 382.3,247.7 149.9,311.9 526.7,211.8 463.1,229.2 295.1,250.8 364.6,225.0 236.9,296.9 568.6,163.7 292.3,273.5 373.7,259.0 249.6,277.8 374.7,256.4 124.7,303.0 136.0,319.5 300.2,262.5 511.3,196.5 167.0,313.1 111.4,310.5 548.3,210.3 402.9,229.4 342.5,283.8 290.8,269.0 91.6,322.0 263.1,271.6 279.5,242.3 263.4,255.3 221.3,293.7 370.8,257.4 195.3,289.7 162.0,306.3 502.5,168.9 383.4,257.8 296.8,260.5 435.5,206.2 188.6,253.5 311.6,286.0 310.1,292.6 220.5,285.5 202.7,314.2 488.8,232.0 301.1,267.5 121.0,288.4 134.9,331.9 195.5,291.9 99.2,329.2 536.3,169.1 129.9,305.0 543.2,193.6 385.6,218.5 128.0,308.6 266.6,281.4 397.0,211.2 398.6,210.3 350.4,275.8 559.4,202.2 565.8,177.7 186.2,299.0 366.0,214.7 568.7,193.2 162.0,300.7 379.8,221.9 479.8,218.2 108.3,317.3 104.0,336.8 269.9,287.3 282.0,269.4 365.0,211.1 392.1,229.3 510.3,205.7 203.1,305.0 210.3,290.3 208.1,302.2 102.7,338.2 270.1,291.0 223.9,266.4 413.2,251.4 390.4,238.0 109.3,313.3 193.8,300.0 377.6,247.0 263.8,249.9 280.4,285.0 361.3,243.0 475.0,227.4 299.9,253.3 301.5,248.8 429.5,206.1 455.3,199.4 453.7,187.2 365.4,245.7 570.1,128.2 228.8,282.3 181.7,293.8 345.5,293.5 297.4,261.9 178.6,297.1 330.5,256.8 107.3,322.5 533.4,175.3 408.7,250.1 521.8,184.8 127.3,305.2 105.5,324.2 271.2,270.5 403.1,234.2 271.5,291.6 507.4,195.8 170.2,319.6 554.2,188.7 354.4,257.2 455.5,234.5 119.9,290.0 225.4,281.2 257.0,253.9 386.4,239.1 459.7,183.3 102.6,328.4 214.7,262.1 206.3,297.5 243.5,280.9 98.1,327.5 165.5,310.7 558.8,191.9 196.0,272.3 521.6,201.7 415.3,260.2 168.0,320.9 357.5,252.7 343.1,261.7 446.1,212.4 169.1,314.8 435.0,196.8 539.3,189.2 377.1,260.4 300.0,250.8 545.7,191.1 423.5,220.6 307.9,289.3 183.2,286.0 522.9,215.9 387.4,204.3 289.4,266.4 211.6,307.2 525.0,198.0 504.3,185.4 502.5,162.3 316.5,275.2 489.8,211.0 534.2,188.7 199.3,298.7 441.4,223.6 204.6,304.1 469.8,199.6 359.2,233.1 554.9,189.0 460.7,208.7 324.1,270.5 170.2,323.1 417.9,239.0 353.9,237.0 441.4,213.7 389.9,237.3 187.8,274.9 232.6,276.9 534.7,178.7 370.9,263.4 391.0,231.9 235.9,269.5 153.6,307.0 121.4,281.6 442.8,227.8 149.9,309.8 240.3,296.9 169.3,305.6 492.6,201.3 118.2,306.7 477.4,221.6 373.7,259.4 344.2,246.6 198.3,279.6 140.2,324.4 502.5,210.3 102.4,336.7 485.9,230.8 271.2,291.0 179.9,296.6 152.5,303.5 110.1,306.6 331.0,238.8 93.0,326.3 206.7,313.9 130.2,310.6 478.0,224.6 388.6,193.2 427.8,209.6 225.5,236.1 206.6,294.9 235.1,286.6 466.2,199.8 371.7,249.3 304.3,256.3 381.2,256.9 382.6,266.9 229.2,288.5 198.9,292.8 273.9,300.7 206.4,309.7 329.0,265.3 414.1,255.6 238.0,300.4 392.9,191.3 111.8,297.9 188.2,261.7 513.9,212.2 164.7,305.7 188.3,278.9 166.5,289.3 325.6,244.9 423.1,206.6 385.1,239.1 312.4,285.7 488.8,202.4 424.4,214.0 408.1,224.4 147.1,314.5 157.2,307.3 111.9,308.8 127.5,263.8 306.7,270.4 199.5,301.3 140.4,337.5 242.5,294.4 198.6,268.7 277.6,291.2 179.5,291.9 112.8,289.1 333.6,237.9 312.0,299.4 507.7,205.6 123.1,297.7 105.8,324.8 282.3,272.5 545.1,204.8 292.7,257.8 508.6,171.0 516.9,210.8 489.3,215.5 475.1,194.2 556.0,207.2 245.7,300.0 316.4,262.8 388.2,232.0 291.4,255.0 179.7,285.4 294.3,245.3 340.5,260.0 515.8,180.4 200.1,300.4 389.2,247.0 168.5,311.0 409.1,241.3 498.4,149.5 347.2,278.6 485.1,226.7 365.3,248.5 447.4,234.9 296.0,270.8 516.9,208.4 396.6,219.5 375.1,247.9 238.0,285.4 393.7,209.5 240.6,295.4 511.0,208.0 359.5,251.8 424.0,231.3 93.3,323.4 91.2,315.3 217.3,282.8 123.3,292.7 126.9,303.4 388.2,243.6 134.5,325.4 205.5,301.7 114.2,280.7 280.0,280.0 398.7,212.7 523.6,217.4 497.6,141.7 119.9,303.4 496.2,198.6 105.6,323.3 403.5,217.0 187.1,291.9 559.3,151.7 332.1,251.2 450.6,231.0 356.2,254.5 153.7,300.9 316.7,276.2 468.3,193.9 159.5,303.9 409.8,245.9 566.0,166.8 224.1,275.5 231.1,268.3 92.4,318.9 95.6,330.3 195.7,279.2 542.9,196.7 496.4,200.0 507.6,182.2 106.9,306.4 350.9,253.3 325.4,239.4 445.7,230.4 289.9,266.3 522.4,212.4 275.0,304.1 154.9,307.4 167.6,324.6 357.9,236.4 123.0,290.5 444.4,230.7 223.2,273.2 550.0,211.3 108.2,318.3 211.2,276.1 153.2,303.5 227.9,281.8 318.8,255.4 486.3,226.1 425.0,195.2 269.9,282.4 141.4,326.0 495.1,172.1 195.3,291.2 381.4,248.5 259.9,266.1 453.3,185.6 327.3,220.8 463.9,193.1 365.7,190.4 453.7,204.6 265.0,264.5 243.7,294.3 305.7,283.6 117.7,305.1 255.0,267.0 561.9,164.6 196.3,287.0 198.6,295.7 101.3,329.7 350.6,267.7 213.9,292.5 409.5,236.8 120.7,297.2 124.0,297.6 340.9,244.6 199.5,299.9 377.0,249.4 176.7,288.4 121.1,299.6 449.2,227.6 501.6,208.7 544.1,192.6 122.8,287.3 437.8,203.4 361.1,229.8 119.4,290.2 142.9,318.6 517.1,211.9 491.2,197.9 501.8,197.6 215.4,285.6 130.2,315.3 193.8,291.4 206.0,317.1 266.8,272.2 367.4,252.3 203.5,316.2 518.6,219.3 253.6,255.1 293.8,263.9 446.1,207.8 505.5,185.0 151.0,312.8 130.9,303.5 297.8,273.0 302.4,271.5 321.6,214.1 404.1,243.3 166.0,300.7 524.7,197.8 542.5,165.6 294.3,266.1 203.0,310.1 417.8,263.5 227.3,272.9 294.6,257.5 133.3,308.2 423.6,214.4 351.5,258.2 263.6,273.0 181.8,297.5 481.0,233.1 448.7,214.8 473.5,221.5 454.4,214.6 152.1,316.2 359.9,257.5 100.3,322.5 468.3,209.9 197.4,295.0 453.4,190.1 328.9,260.4 560.2,178.1 366.2,239.8 329.0,257.6 370.0,252.3 413.4,247.5 551.0,206.1 106.4,329.0 468.3,217.4 507.1,209.1 348.3,282.0 282.1,277.2 165.1,313.7 204.3,315.6 108.0,296.8 497.7,192.9 501.1,194.1 138.6,327.0 301.4,267.5 168.9,320.3 142.0,320.5 253.8,276.4 234.3,286.6 386.5,220.0 395.9,238.0 290.3,270.2 533.3,200.5 464.5,208.4 375.5,274.4 220.9,272.0 436.9,212.6 161.8,310.5 302.8,257.3 457.7,223.7 125.2,281.6 479.3,234.4 222.4,264.4 140.5,331.5 261.6,282.7 430.3,163.8 528.4,199.8 281.1,266.6 441.3,181.2 229.7,282.3 496.9,199.3 124.7,294.5 195.6,269.4 346.2,274.4 242.2,292.8 248.2,279.1 180.1,285.5 499.9,191.6 161.1,311.5 267.5,287.0 136.5,312.0 111.7,312.1 325.7,268.5 402.5,206.7 446.1,200.0 437.1,212.9 286.5,269.5 287.4,252.5 99.0,325.3 516.7,226.1 239.6,297.6 283.9,273.4 222.9,290.0 236.9,288.1 426.8,220.8 483.1,214.4 230.6,271.3 109.6,318.9 534.0,184.8 298.1,229.4 371.2,255.5 220.9,277.9 231.1,275.7 102.2,327.5 549.4,209.2 349.9,248.2 295.9,252.8 127.7,257.4 224.6,270.3 316.2,253.9 564.5,185.4 248.0,279.9 236.2,285.3 90.8,309.8 395.9,216.7 304.1,267.4 564.9,179.5 558.7,193.1 268.6,286.7 235.2,282.1 214.2,301.9 197.0,273.9 340.0,268.6 509.8,202.8 251.6,264.4 112.7,315.2 132.8,292.2 357.6,235.6 202.5,303.2 160.8,300.2 153.6,306.8 200.1,304.3 141.8,333.8 117.5,312.8 527.3,162.4 450.7,226.6 253.1,278.6 265.1,279.3 453.6,180.2 171.3,316.6 188.1,277.1 334.6,247.7 115.8,321.5 241.5,305.9 363.9,260.8 168.9,312.0 445.2,214.5 442.7,229.8 117.5,309.7 395.5,218.3 482.2,219.5 405.8,229.5 561.1,186.4 330.8,264.9 512.8,213.7 409.0,205.8 335.6,237.9 407.3,243.5 216.8,283.6 307.2,279.9 178.6,300.7 355.1,255.2 141.5,329.4 267.0,269.6 531.6,181.1 170.5,310.5 329.8,256.5 104.0,342.4 372.2,264.0 483.7,218.8 112.4,285.2 105.9,320.2 404.9,232.2 403.3,221.6 208.9,300.6 481.2,218.3 281.0,299.5 515.6,214.0 118.8,279.2 184.8,278.9 252.2,279.9 344.5,294.5 267.0,274.9 450.5,248.5 491.5,172.4 407.2,210.6 164.9,291.8 129.9,307.1 159.4,300.0 433.6,222.8 423.0,221.1 456.3,208.3 201.7,310.5 230.6,258.9 499.6,165.4 336.9,227.7 116.8,294.4 219.7,283.6 492.1,200.9 185.1,285.8 313.7,286.1 140.7,322.8 152.3,309.3 443.7,218.8 314.2,287.4 121.0,275.2 437.8,211.3 100.8,319.3 106.7,324.1 322.2,267.8 491.3,215.1 421.1,196.6 292.3,266.2 455.9,213.6 435.3,216.0 159.4,301.9 460.2,222.7 292.3,221.2 244.0,301.3 261.9,262.9 472.1,206.8 98.3,332.7 544.8,178.6 455.8,233.5 381.7,242.0 109.5,319.9 360.5,236.1 261.5,280.6 116.3,317.9 387.0,248.9 106.9,302.0 326.9,273.3 240.3,277.8 210.4,304.9 525.4,199.7 315.8,276.4 166.7,315.1 421.0,227.1 170.9,297.8 209.6,305.8 351.4,236.2 122.5,303.4 471.5,224.8 477.5,230.1 348.1,274.8 179.2,285.9 376.5,261.5 325.9,256.1 569.2,195.9 445.6,237.2 236.8,281.4 199.4,301.4 191.5,275.4 194.4,278.1 256.3,275.4 453.8,217.3 155.0,308.8 275.2,278.7 100.2,323.2 142.0,323.9 170.5,325.5 379.7,258.1 302.3,274.8 428.9,216.3 513.0,203.7 359.2,257.0 474.8,223.2 103.0,334.5 558.9,205.4 309.1,296.5 382.1,266.3 314.5,237.0 270.8,293.7 478.1,231.6 222.5,280.5 444.4,233.8 565.7,176.6 287.7,271.1 334.7,248.2 103.2,329.1 174.3,278.4 345.9,279.6 252.6,256.2 313.9,289.5 271.4,295.4 327.5,220.3 208.1,297.1 348.5,235.4 255.8,260.3 103.3,339.9 222.6,273.1 113.2,294.7 365.5,247.4 283.8,264.1 503.7,182.9 174.7,317.3 152.3,310.4 392.5,238.9 439.4,223.2 524.0,208.8 426.3,214.8 268.4,284.5 237.0,287.0 210.4,295.5 120.4,294.2 232.7,291.3 109.4,310.8 285.9,266.8 525.9,185.8 290.1,248.3 313.3,283.0 566.4,165.1 428.7,219.4 546.0,203.2 95.4,325.0 359.2,252.1 320.1,272.2 214.1,279.0 255.7,275.8 366.8,258.0 397.2,196.7 359.1,257.3 115.9,311.3 445.8,213.5 183.8,283.1 198.9,301.3 161.4,277.7 265.4,265.4 320.3,238.9 201.1,303.7 98.8,333.8 211.8,314.3 164.3,301.4 269.0,270.2 211.8,306.6 280.2,277.0 225.1,268.6 309.8,295.9 426.2,173.7 235.8,279.6 216.2,280.5 530.1,163.2 294.2,258.9 414.8,263.3 174.0,320.4 111.8,310.8 139.5,325.2 96.2,330.5 392.7,218.0 279.8,282.6 462.7,198.7 117.4,289.2 199.9,300.5 116.3,296.3 98.9,338.4 301.7,272.5 359.8,253.8 173.6,309.0 357.5,245.9 340.8,278.0 284.6,272.8 130.8,309.9 349.2,274.5 347.0,273.6 400.2,210.0 272.9,294.0 184.3,265.4 264.0,278.4 544.2,195.7 318.1,254.3 124.4,303.4 124.1,297.3 187.9,284.9 94.3,325.2 327.8,246.2 298.2,257.7 528.6,196.3 191.3,286.5 298.0,243.3 432.0,231.1 429.5,187.4 136.5,333.8 105.5,326.9 150.5,306.8 334.8,237.2 487.4,229.7 205.6,313.0 520.6,218.5 276.1,291.6 475.8,198.7 329.4,263.0 534.1,202.0 223.4,281.9 193.1,283.4 492.3,207.7 525.1,204.3 338.4,259.7 109.8,306.3 559.5,180.3 519.9,215.9 264.0,278.0 476.3,199.4 386.5,239.6 376.4,273.6 349.2,262.0 207.8,303.6 449.0,245.9 462.8,204.4 458.5,220.3 543.2,168.9 371.1,263.1 106.5,326.6 164.6,294.3 370.3,252.2 176.8,287.7 150.5,319.9 241.9,278.2 560.3,196.0 476.8,228.6 566.9,174.9 137.2,331.8 546.5,175.6 508.3,163.2 148.1,314.9 231.9,290.8 428.0,209.9 505.2,180.3 544.7,203.5 433.3,154.3 196.7,295.1 379.2,261.9 496.3,210.6 198.1,265.4 276.2,286.6 91.7,308.0 95.8,319.6 294.5,240.8 310.3,283.9 295.4,230.4 523.4,206.3 495.4,175.7 219.6,232.4 442.4,229.4 302.8,271.6 252.1,273.4 428.7,224.0 412.5,253.3 371.2,264.8 255.5,264.4 201.4,281.5 103.0,337.7 110.7,308.1 108.3,315.6 504.3,189.5 102.0,339.3 170.2,324.7 477.3,206.7 149.0,311.2 288.6,254.2 415.1,257.2 389.3,220.5 475.5,223.9 243.4,262.4 450.7,245.2 554.4,212.1 490.9,204.1 108.9,291.2 467.7,206.6 207.3,311.4 168.7,286.3 146.6,316.2 329.9,239.1 370.9,260.8 539.3,199.0 221.0,267.0 429.6,222.4 98.0,321.4 531.3,180.3 236.4,289.2 220.3,291.8 442.4,208.7 238.3,288.1 90.7,307.4 303.7,249.7 551.4,201.9 99.6,338.9 206.7,298.5 229.2,267.3 536.7,203.2 418.7,247.8 450.7,221.5 114.6,306.2 325.8,260.3 206.7,312.8 329.5,231.3 561.6,161.4 310.5,295.7 251.9,279.3 189.5,288.0 480.1,207.4 361.2,218.6 493.3,185.5 129.2,308.6 441.8,215.2 151.6,302.3 332.4,254.9 113.0,314.4 377.2,271.6 172.6,316.9 180.5,273.2 477.8,214.3 538.1,198.2 511.7,194.5 396.9,156.2 391.4,237.0 360.3,259.4 129.3,306.5 203.9,310.2 406.5,245.4 247.2,276.0 300.0,261.5 113.9,313.6 354.2,247.2 128.4,302.5 308.1,294.9 149.2,315.6 227.1,274.7 423.4,219.1 146.9,311.4 286.4,271.9 257.6,263.9 459.5,168.4 457.9,199.1 116.8,311.1 228.9,290.7 225.3,257.7 303.6,275.4 304.4,275.4 105.0,313.8 417.8,252.1 148.8,318.8 506.4,187.1 118.5,300.4 537.2,194.1 128.7,306.2 473.8,207.4 441.9,219.0 191.2,272.2 171.2,318.0 282.4,267.1 193.6,296.7 119.6,294.8 505.8,205.8 199.8,299.0 91.6,323.1 329.4,267.1 303.2,265.0 199.2,292.5 93.2,321.0 121.0,296.0 501.4,207.4 562.8,206.2 261.8,252.7 219.0,285.1 355.8,264.6 268.4,287.3 371.0,255.4 437.8,213.2 91.8,321.2 453.8,209.6 360.6,251.0 498.6,180.0 211.3,284.8 152.2,315.6 191.8,300.1 285.5,248.8 358.6,236.0 499.4,185.9 244.2,300.0 215.4,283.5 513.4,216.3 508.4,181.0 119.3,291.2 142.7,328.2 394.4,212.8 229.3,284.3 154.1,308.4 250.0,282.9 153.0,307.3 404.3,223.5 475.5,203.5 199.1,283.1 94.6,310.5 214.1,282.9 338.6,268.4 430.9,232.3 211.0,283.0 374.5,257.0 538.4,176.7 303.2,274.4 553.7,214.2 159.8,300.1 102.1,332.2 306.4,250.2 351.9,226.2 280.3,273.3 266.2,276.6 127.8,304.7 204.9,303.9 464.1,228.0 325.4,261.3 522.6,215.3 143.3,328.7 368.0,251.4 278.9,285.4 267.9,271.9 141.6,331.0 312.3,288.4 262.4,273.6 513.7,214.8 379.9,230.5 107.1,330.9 227.5,281.3 359.2,244.4 205.8,302.7 422.3,227.4 160.8,299.6 278.4,297.8 314.5,288.0 91.3,325.5 207.7,311.3 453.0,238.8 474.1,218.4 283.0,250.3 454.3,224.8 449.4,251.4 289.3,248.9 168.6,303.6 408.3,245.8 488.9,229.3 163.7,310.9 232.1,251.7 476.9,230.2 288.1,226.8 299.1,268.5 112.3,315.6 438.4,215.2 429.4,214.9 216.5,288.6 317.9,278.2 393.9,174.6 393.2,230.7 124.2,298.3 245.8,292.6 475.8,202.6 418.1,227.6 123.1,304.9 262.7,265.1 331.3,245.5 387.0,227.3 278.4,280.5 265.6,275.1 137.2,314.5 93.9,312.7 466.2,207.1 95.5,322.5 305.7,289.1 100.5,310.8 482.2,232.8 289.6,263.4 489.4,212.1 444.3,220.7 541.2,197.9 205.9,315.1 528.7,197.0 133.7,294.9 451.4,251.1 345.5,278.2 210.8,313.1 330.7,260.8 267.6,270.2 475.2,195.7 423.0,200.9 273.0,300.6 488.8,216.6 216.9,294.7 415.1,240.4 99.8,334.5 258.9,271.5 547.7,201.9 136.1,330.9 150.5,301.4 200.1,306.6 170.5,306.9 367.5,260.4 388.2,244.2 174.4,312.2 545.2,203.4 488.3,207.9 96.4,326.2 415.7,230.8 117.7,305.6 341.9,277.3 136.9,314.5 513.4,208.4 192.8,293.3 173.6,315.0 545.8,201.8 209.3,303.3 393.4,184.8 98.5,330.8 221.2,289.2 322.6,249.5 150.9,311.2 364.7,253.5 213.6,297.8 344.4,278.8 186.4,292.2 319.2,266.1 285.4,261.1 113.1,306.1 180.7,293.2 442.1,223.1 290.9,267.3 274.6,284.6 410.8,248.6 220.7,262.4 100.0,336.8 400.4,220.4 99.0,323.3 273.7,275.4 115.5,280.8 97.2,324.4 266.0,264.8 364.5,253.8 316.5,287.5 342.9,255.3 390.5,245.4 236.9,278.1 377.6,262.7 240.2,283.0 214.0,278.7 149.0,316.2 137.8,321.6 182.9,257.3 441.0,217.4 275.0,303.4 397.2,189.8 428.9,230.1 141.8,304.4 557.1,189.5 459.7,213.4 505.2,186.4 154.6,311.0 423.3,191.5 214.1,291.0 146.7,305.4 465.4,218.4 529.6,168.7 401.1,225.5 187.9,283.2 220.3,289.2 430.0,206.0 164.2,319.6 343.7,279.5 289.1,263.2 253.6,253.1 141.8,333.2 512.1,202.3 276.1,304.7 314.6,248.7 123.1,298.4 92.7,308.7 260.7,279.1 334.7,257.4 360.8,220.8 342.1,276.1 544.6,174.9 434.3,210.8 163.8,313.1 178.9,290.7 383.9,242.8 238.6,292.8 263.7,247.0 149.8,305.7 446.4,242.2 133.3,277.8 410.7,231.5 93.8,303.2 484.8,235.3 548.3,216.4 98.3,320.2 529.0,201.5 178.6,299.8 310.8,265.2 150.9,310.3 527.8,205.6 394.3,163.1 106.6,331.0 334.4,261.5 470.0,200.3 201.8,296.9 238.4,283.9 168.9,276.7 334.4,258.0 138.5,334.5 551.0,182.0 302.9,258.1 224.8,274.6 232.2,278.8 223.6,260.0 489.9,208.5 190.3,232.4 173.8,312.0 482.4,235.1 475.9,224.9 311.5,274.9 265.1,262.3 117.3,303.4 291.8,232.7 460.1,187.8 556.6,215.8 333.1,269.9 186.4,277.1 123.6,280.3 98.3,313.3 390.6,236.2 342.5,286.9 202.4,306.3 358.6,259.9 268.4,277.9 429.9,225.0 380.7,263.5 119.6,275.0 95.4,325.7 372.8,265.5 238.5,297.4 447.7,230.4 546.7,199.1 310.7,278.4 485.3,221.3 548.9,197.2 333.9,264.9 106.0,325.6 490.7,211.4 205.8,302.3 132.1,316.3 124.8,304.0 105.9,323.9 177.5,299.8 216.1,272.8 566.9,194.9 288.0,270.2 329.4,237.1 308.1,290.7 425.8,234.5 557.1,178.3 247.1,278.6 159.3,285.2 502.5,163.5 312.7,260.8 514.8,215.6 542.4,187.3 536.1,197.2 499.7,174.8 341.0,274.9 131.9,306.6 510.9,208.6 289.4,270.4 125.9,303.6 418.2,254.1 223.3,277.8 107.1,333.9 305.2,278.2 426.7,231.4 258.3,249.1 182.6,235.0 218.2,293.8 500.5,203.6 136.6,309.3 274.4,299.9 499.6,189.9 136.0,328.7 527.5,158.5 564.4,198.2 262.8,282.0 430.2,214.5 130.4,295.6 211.3,297.5 368.1,230.4 99.6,334.7 539.8,205.5 260.3,258.0 171.3,301.4 369.9,217.5 494.8,199.3 143.0,319.3 239.1,293.5 199.5,299.4 303.5,229.8 409.1,240.7 343.1,283.3 387.1,255.6 213.3,259.7 199.4,297.1 113.7,312.6 424.4,216.5 282.0,272.0 247.6,283.5 115.2,296.0 557.5,184.0 505.4,199.4 356.7,259.8 475.3,199.5 138.6,331.8 405.4,240.2 221.0,281.7 382.9,246.7 110.4,320.8 102.5,340.4 160.0,302.3 241.0,280.2 275.7,280.3 548.0,209.1 265.9,284.7 370.5,254.9 170.5,299.9 320.9,276.9 277.9,292.2 225.9,233.1 432.7,198.5 541.0,196.5 557.8,198.9 178.6,281.4 406.8,242.6 303.4,280.0 269.3,285.0 263.8,253.0 348.2,290.7 326.3,257.5 211.3,297.1 316.6,256.1 370.0,238.5 91.0,319.4 231.6,290.2 413.7,241.6 437.9,191.5 342.3,268.1 241.4,299.5 232.1,250.9 227.5,258.4 149.6,308.3 456.9,219.8 381.9,228.5 188.4,249.0 461.2,218.3 346.0,267.7 129.0,298.8 148.7,316.9 99.2,320.1 512.5,209.4 494.7,206.5 235.1,288.3 299.4,265.7 197.6,272.7 225.7,242.8 474.7,203.7 292.1,268.0 102.3,331.0 189.2,295.9 236.7,300.8 142.9,307.9 252.8,268.3 384.3,252.5 208.2,311.7 187.9,288.9 127.5,295.4 400.8,238.6 128.2,301.3 240.3,303.6 349.9,265.8 94.5,308.8 304.8,277.7 211.7,304.5 139.2,320.5 464.7,222.0 441.2,199.5 348.3,289.4 138.9,316.3 394.1,197.6 491.4,206.7 427.7,201.8 161.3,291.3 130.3,310.2 432.7,225.1 519.3,216.2 324.0,214.7 205.5,295.7 426.7,207.6 235.4,290.8 221.8,280.2 335.2,271.5 557.9,212.1 421.2,243.5 102.8,316.1 220.4,290.2 96.3,323.8 137.6,326.9 264.5,273.8 279.3,257.1 311.6,286.6 451.3,199.3 321.5,224.1 253.8,280.7 188.6,240.8 477.7,223.7 465.0,214.5 250.6,277.5 528.9,201.5 358.1,248.6 165.7,318.5 376.1,258.5 280.2,284.9 423.2,237.9 178.1,308.2 179.9,298.3 169.0,312.8 544.5,200.7 540.2,184.1 188.8,294.4 469.6,202.6 112.8,317.0 111.5,318.0 448.2,235.0 456.6,209.4 222.8,284.4 458.5,216.1 400.8,225.3 417.6,243.3 443.4,232.1 226.7,278.4 472.5,212.8 277.3,293.6 279.7,265.4 523.5,201.5 163.0,295.3 133.3,311.9 195.3,297.9 509.4,168.8 460.0,210.7 182.7,291.2 313.4,273.2 298.4,204.3 388.5,245.9 285.3,263.8 111.1,312.8 531.4,196.7 292.6,260.4 402.5,207.3 128.2,291.3 166.5,260.4 245.0,292.1 92.0,307.7 142.9,329.1 449.3,240.1 202.4,300.5 373.2,245.9 305.1,278.5 403.3,242.1 273.8,304.1 235.8,278.8 108.3,327.0 376.3,270.8 231.4,281.7 461.7,222.6 280.7,293.4 103.4,330.2 288.5,266.5 333.2,230.6 289.3,277.1 302.7,249.2 110.5,317.8 362.1,214.2 339.7,265.9 118.8,278.4 455.9,200.8 370.9,251.0 348.4,276.4 102.3,341.9 224.3,281.3 468.8,179.4 570.0,180.2 90.9,319.9 111.2,307.4 277.3,284.2 185.5,290.3 210.3,306.4 477.4,211.8 361.8,242.8 506.7,194.2 258.1,252.4 389.5,245.4 205.1,316.1 221.3,270.1 256.5,260.2 501.9,196.2 187.8,271.8 495.6,196.0 423.2,151.2 211.3,291.4 421.2,194.5 127.3,305.7 251.5,269.3 150.6,315.6 340.7,269.2 91.2,324.5 440.3,217.1 466.6,193.0 475.2,214.8 109.1,318.3 264.4,256.8 348.6,265.3 131.1,284.6 148.3,316.7 395.1,222.9 478.5,229.8 365.5,250.6 128.5,288.4 421.3,238.1 104.6,334.9 464.8,214.8 101.9,332.9 243.8,305.4 496.0,176.7 413.2,241.8 384.9,256.7 497.5,208.9 258.3,246.2 92.2,323.3 336.4,269.5 561.3,201.1 227.8,269.4 341.9,262.7 492.6,206.8 477.1,218.2 373.4,255.9 106.2,326.4 371.8,254.2 235.2,285.6 344.3,281.6 400.8,216.8 506.7,179.0 119.2,277.5 289.0,272.8 265.9,257.9 484.1,234.9 233.9,288.9 440.7,221.8 492.2,191.4 276.7,285.6 338.8,266.7 540.6,198.2 252.9,220.9 449.3,242.2 357.3,255.9 199.3,281.5 346.4,281.0 418.5,240.2 212.3,307.9 175.3,254.5 508.4,180.7 323.6,255.7 491.8,200.3 528.6,182.0 352.0,265.1 314.4,259.7 513.5,203.0 236.4,257.7 284.3,268.3 314.7,234.8 517.9,202.9 416.1,248.8 413.2,249.1 342.0,260.6 458.8,212.9 509.4,160.2 210.9,289.4 315.6,255.0 363.6,256.4 386.7,249.6 173.2,320.6 399.8,234.0 141.7,306.0 227.4,255.7 562.6,207.1 510.6,203.2 521.3,193.1 233.9,285.2 351.7,222.5 529.3,188.3 256.2,258.9 162.5,307.7 236.0,271.9 94.7,306.7 301.9,274.6 336.2,264.9 507.8,188.1 297.2,265.0 390.2,209.7 151.5,312.6 491.9,214.1 117.0,312.9 257.5,262.2 489.0,215.2 96.7,319.1 168.7,297.9 224.9,255.5 341.3,266.5 365.3,251.2 469.6,217.5 98.9,330.5 370.0,223.7 341.5,282.8 364.6,239.8 336.5,267.9 320.9,246.8 412.7,247.5 217.9,288.0 417.9,232.2 326.1,267.2 359.0,260.4 177.2,311.8 233.5,265.7 422.6,217.3 228.9,283.2 381.0,265.8 493.1,187.2 91.7,314.4 120.3,300.7 154.3,309.2 438.8,211.5 182.2,289.4 110.0,314.9 246.0,295.7 437.0,202.5 283.3,224.8 479.4,215.8 275.2,284.2 283.5,279.1 266.1,268.0 370.1,229.7 251.2,246.5 536.7,184.1 500.1,206.8 169.0,307.3 148.8,316.1 270.9,287.9 566.9,167.2 177.5,301.0 298.5,243.9 439.5,217.2 224.4,265.9 431.5,221.2 318.7,249.1 203.8,307.8 199.1,290.7 153.2,310.4 151.1,299.4 532.5,148.2 186.9,281.1 187.3,297.4 362.3,259.5 287.4,264.3 414.3,226.8 95.0,328.5 453.2,184.2 296.0,267.8 314.3,259.2 107.4,323.2 347.8,255.9 425.3,192.0 207.6,290.9 327.4,249.7 487.1,216.2 256.8,272.0 260.9,282.8 357.8,263.5 166.5,312.2 335.5,215.6 134.6,311.5 324.6,271.9 189.1,299.3 433.4,201.3 136.5,325.8 169.2,296.8 292.0,252.1 279.5,298.1 310.7,300.1 477.2,222.7 274.7,289.3 422.3,224.1 327.2,243.0 160.9,303.0 230.7,279.7 569.6,187.4 364.5,234.0 386.8,243.0 100.6,343.6 561.8,189.6 390.8,242.1 557.6,179.8 272.4,278.0 455.2,229.3 188.1,271.6 248.6,265.5 99.9,333.4 215.5,282.6 227.0,258.8 348.2,273.7 306.4,263.8 308.6,286.7 423.7,210.4 548.6,215.7 152.2,302.5 188.2,294.3 210.7,302.7 106.2,321.2 166.2,301.8 373.5,261.6 563.8,197.2 167.6,276.1 384.1,262.3 130.0,306.4 251.8,278.2 362.3,260.5 389.5,224.6 195.8,247.3 107.5,323.6 433.2,226.5 397.8,229.9 202.2,305.9 91.2,308.0 279.8,262.7 151.9,314.4 199.2,269.7 356.3,211.7 302.5,275.5 174.2,302.8 127.5,306.4 255.9,258.5 493.5,189.3 108.6,317.6 134.4,328.9 263.5,277.5 312.5,277.9 370.4,263.5 344.0,279.9 307.8,268.3 185.1,244.4 368.2,244.1 264.6,279.3 501.0,205.6 405.3,217.4 207.8,306.4 289.5,248.4 555.2,176.4 566.3,150.7 545.1,183.0 222.2,279.2 390.9,231.0 417.5,257.8 484.4,212.5 560.9,189.6 366.1,235.8 267.2,278.6 307.5,265.5 339.2,273.4 359.9,244.7 230.9,261.7 564.1,197.3 480.9,232.1 186.5,290.8 241.6,284.3 149.8,317.0 410.9,250.7 529.9,146.5 344.6,288.6 434.6,219.3 298.1,254.7 138.1,335.0 224.3,288.6 114.9,292.8 340.8,266.1 270.4,281.6 241.4,299.6 445.9,229.8 236.0,293.4 540.6,196.0 355.0,249.2 107.5,315.5 290.3,266.9 142.5,318.5 258.8,281.2 302.7,268.3 474.5,183.1 258.2,247.2 444.6,223.5 395.2,192.4 467.7,208.7 97.5,320.8 361.3,250.4 508.5,165.4 122.3,303.6 521.3,216.3 411.1,229.0 446.8,238.6 92.8,322.3 227.9,276.5 506.2,197.7 292.2,247.5 126.1,309.5 179.2,287.8 550.4,219.9 463.7,213.5 561.2,152.6 336.3,251.1 147.5,313.3 278.7,243.5 117.4,316.8 256.5,277.5 148.2,313.2 160.7,292.7 251.7,269.6 318.8,275.2 366.7,253.3 331.7,236.2 335.9,235.8 482.1,237.0 249.7,248.3 92.9,317.1 560.0,183.9 320.4,265.5 438.0,180.1 188.6,293.2 130.5,312.1 429.3,166.7 299.2,265.0 457.2,234.4 281.3,284.1 131.0,315.7 277.7,253.0 165.5,313.6 419.1,234.0 532.3,165.8 136.9,316.0 468.5,190.0 167.2,324.8 153.7,312.7 422.3,219.0 499.7,198.8 508.2,154.1 365.3,249.6 426.2,226.0 224.3,279.2 122.9,278.4 327.7,254.1 170.5,311.3 207.9,315.7 208.5,310.2 106.8,332.1 205.2,283.5 291.5,272.2 506.1,183.3 148.1,311.5 354.0,258.3 128.9,307.3 438.0,212.5 245.9,296.3 402.9,227.3 434.0,207.0 417.8,210.7 238.6,296.7 393.4,227.1 433.3,211.4 330.4,269.7 513.6,203.7 300.3,258.9 501.1,178.9 248.1,283.5 565.4,181.1 234.6,261.1 549.2,182.6 511.8,205.0 94.0,322.0 153.3,292.4 109.0,310.1 133.0,317.0 383.0,265.7 184.4,253.5 151.6,316.0 433.8,223.6 201.9,313.6 522.2,190.8 530.3,188.5 306.2,248.3 508.5,193.0 550.9,210.1 338.1,256.4 480.8,233.8 150.7,312.0 160.1,295.3 119.6,298.8 193.3,291.0 387.0,228.7 378.4,260.8 150.7,315.4 380.0,255.8 137.0,334.8 545.3,203.5 344.5,293.2 373.4,237.6 402.2,227.4 200.1,301.0 195.5,265.4 289.1,279.0 122.0,301.7 142.4,327.8 234.6,259.2 537.9,178.1 535.9,182.5 134.6,323.2 512.4,204.9 379.2,262.9 107.2,326.3 225.8,265.3 481.0,204.0 329.9,236.3 447.3,243.7 334.9,266.6 385.4,263.1 403.9,227.2 406.7,241.9 218.2,249.2 140.9,328.8 311.5,295.7 397.8,230.6 207.2,314.6 238.7,286.1 540.4,170.9 358.1,233.7 373.5,230.5 479.1,214.4 561.4,150.3 330.8,269.4 511.6,210.0 487.3,229.0 208.4,315.5 550.9,209.4 417.7,208.1 303.3,262.4 474.8,208.8 367.8,236.8 322.4,237.4 523.7,187.5 130.6,295.5 378.6,272.3 477.5,211.5 484.1,207.2 153.4,300.0 317.7,274.1 454.1,219.7 280.5,299.1 151.8,304.0 228.8,282.8 123.9,291.6 568.6,194.8 116.4,301.4 449.6,228.5 264.8,234.3 122.7,295.2 337.2,253.5 475.1,212.5 447.4,240.2 141.1,335.9 272.0,302.5 489.4,217.8 406.2,226.1 99.6,338.2 149.7,313.8 338.5,268.3 441.5,223.5 298.7,227.0 269.6,267.1 491.5,199.4 479.2,227.9 491.5,177.6 199.7,298.3 269.4,291.3 182.0,293.8 203.0,300.1 316.5,267.3 458.6,206.2 305.0,275.0 364.5,209.0 154.8,305.6 214.2,302.2 471.8,226.8 187.5,282.7 281.9,281.7 342.3,289.6 112.8,318.6 108.7,324.7 294.2,255.9 567.0,190.2 331.9,251.4 417.6,248.8 355.5,257.9 507.8,157.0 387.2,241.4 419.4,205.3 448.8,251.1 131.3,295.7 366.3,249.1 342.1,279.5 393.7,213.4 174.7,307.0 266.7,247.1 289.0,255.7 137.2,311.0 138.4,323.6 277.3,276.2 217.6,293.1 361.1,211.9 491.1,197.2 108.3,324.5 169.1,319.1 213.7,300.1 176.9,315.7 530.3,200.3 510.0,203.8 383.9,264.5 450.7,235.8 435.2,218.5 165.9,309.1 315.3,280.2 199.5,306.5 405.7,225.8 509.7,206.4 92.0,323.7 352.5,253.6 324.5,259.0 558.9,199.2 139.4,336.6 176.4,277.9 173.2,303.7 375.6,263.7 229.5,271.3 473.5,211.5 225.4,276.9 335.3,268.6 407.6,240.7 197.2,273.7 402.5,169.2 453.6,194.8 547.7,209.0 493.2,196.6 314.4,272.5 513.4,212.6 554.7,193.4 448.2,228.0 269.4,282.1 283.1,270.6 133.3,317.3 514.4,202.0 193.1,276.8 288.8,256.2 404.8,239.9 209.2,309.8 292.4,255.4 497.8,204.5 217.8,292.6 279.1,289.6 314.7,269.2 286.7,262.6 202.2,312.5 341.1,282.4 116.8,296.1 118.8,296.2 198.4,301.9 221.8,261.4 244.4,301.7 338.9,272.6 498.1,199.1 254.4,284.4 199.0,294.5 263.5,263.0 494.9,202.1 122.8,298.8 499.7,183.9 285.0,262.1 555.0,202.1 549.9,198.5 102.2,334.4 188.2,296.8 141.0,325.7 346.8,282.2 463.5,210.8 287.8,259.2 446.9,228.9 175.4,308.2 507.1,200.8 122.7,282.3 475.3,211.0 466.0,182.1 351.1,234.5 257.6,274.7 176.6,314.9 196.3,293.3 347.1,284.5 265.5,261.3 122.9,285.0 422.9,238.9 388.0,230.9 361.9,259.2 471.5,221.6 106.3,337.6 113.7,302.2 393.0,237.5 364.3,234.0 154.3,310.3 313.2,259.4 303.5,273.7 394.0,188.3 443.2,227.9 455.2,208.5 430.3,178.1 95.7,314.4 185.7,295.7 378.8,261.2 378.8,255.2 352.0,266.4 540.2,189.7 149.2,315.0 509.9,193.6 297.3,272.2 479.5,210.2 113.1,315.0 116.6,286.2 170.5,322.1 124.4,290.5 429.1,211.7 93.0,314.7 106.6,325.3 346.0,266.3 275.9,291.8 210.7,296.0 177.2,315.2 288.2,233.8 547.0,186.7 124.3,299.0 414.8,235.9 210.0,311.8 236.3,299.3 109.1,322.9 173.3,311.4 405.0,229.4 494.8,205.7 386.7,241.1 481.2,196.2 539.9,181.5 120.5,281.0 286.1,267.2 247.2,284.0 152.3,309.7 253.7,272.5 202.8,290.9 534.6,179.5 204.4,316.2 566.6,170.9 267.2,283.1 561.9,198.8 444.1,216.0 390.8,243.1 272.6,291.7 430.6,234.6 360.1,240.2 218.7,287.2 196.9,279.2 93.4,294.7 356.4,227.6 277.5,304.9 499.1,177.0 438.7,224.0 332.0,261.5 204.8,307.8 474.2,221.0 521.4,195.8 551.9,201.4 272.4,296.3 341.3,283.5 194.9,283.5 303.3,269.5 408.1,242.7 417.3,222.8 462.1,220.3 281.0,264.2 285.3,254.7 116.2,313.0 235.1,289.4 566.2,158.1 440.6,218.8 362.0,247.1 210.2,303.3 416.0,264.4 380.9,246.8 354.5,249.6 114.2,294.5 568.3,201.3 249.8,268.5 422.7,194.7 106.7,327.4 190.4,290.2 198.1,297.3 389.8,245.9 286.0,277.2 261.2,261.8 115.3,292.0 498.2,155.1 515.2,207.2 287.9,275.5 161.4,311.2 403.0,246.0 90.9,324.1 282.9,237.5 106.5,329.9 331.0,219.2 151.3,308.2 432.9,220.4 484.5,227.5 199.0,300.6 322.2,249.2 367.4,254.9 457.2,193.3 237.9,286.9 262.8,280.2 327.9,219.3 286.7,256.8 539.9,196.3 563.6,196.7 123.1,294.3 321.7,262.7 227.9,259.8 133.2,318.2 547.4,201.1 205.5,304.6 183.7,282.8 336.3,251.5 167.8,314.7 172.2,314.9 153.4,311.3 258.0,283.7 124.0,280.5 422.2,175.4 313.5,277.4 252.0,275.3 223.6,284.2 445.7,232.7 524.9,195.2 334.6,263.9 423.2,226.0 303.7,246.7 182.2,274.7 486.2,235.3 228.8,257.6 162.3,314.0 313.3,282.0 215.8,287.8 342.5,290.3 532.7,185.9 290.5,276.3 298.2,234.3 181.4,295.8 336.2,264.5 285.5,278.9 431.1,205.7 214.2,296.3 239.1,289.8 175.8,311.9 359.4,241.8 321.0,262.7 240.6,295.6 557.3,172.7 210.4,298.4 197.0,289.1 121.8,274.0 121.7,293.2 205.1,314.0 196.2,296.3 217.1,294.4 255.3,280.4 500.9,189.7 517.5,220.7 483.7,216.5 404.9,235.6 300.0,258.4 190.7,296.5 323.2,260.3 296.6,265.9 420.3,228.8 458.5,169.4 342.7,278.6 394.5,192.8 508.8,205.2 502.3,179.2 175.7,299.1 197.4,291.9 220.8,287.8 449.0,249.0 244.5,295.0 200.9,310.4 412.4,251.7 200.6,301.5 480.4,232.1 287.9,274.8 168.8,318.5 153.8,289.7 114.8,285.5 266.8,271.8 304.9,271.2 270.4,292.8 279.6,291.5 287.5,264.6 187.4,279.2 261.4,257.6 121.1,277.1 289.8,272.2 301.2,269.1 128.6,307.6 357.8,220.8 207.7,313.9 129.6,303.3 557.3,207.3 170.7,315.2 529.7,175.1 237.7,291.3 335.0,259.4 91.9,301.9 147.2,311.9 438.2,214.1 239.2,283.3 507.2,191.1 559.8,191.5 520.0,207.1 164.2,315.2 509.3,197.7 449.7,252.9 440.4,221.2 565.6,205.6 453.5,236.9 291.3,271.3 468.4,212.4 162.8,314.0 334.1,252.1 292.3,233.5 92.1,310.4 384.0,265.1 222.4,288.8 191.7,277.1 315.1,276.1 151.3,311.5 388.4,199.6 188.4,297.6 561.0,181.5 99.8,341.5 112.5,288.5 494.5,206.4 417.4,254.2 317.6,263.9 475.5,202.4 115.6,293.6 234.9,278.5 324.2,229.3 335.3,253.7 376.7,265.0 443.5,228.9 182.9,285.9 491.1,201.4 453.8,220.5 483.9,202.8 113.9,281.4 254.0,282.0 407.4,246.7 411.2,246.6 222.8,266.6 316.2,282.9 219.4,287.9 363.2,249.5 483.3,228.9 333.0,224.0 341.4,270.5 451.2,219.4 122.3,300.2 455.3,224.5 363.7,250.5 274.5,285.7 515.4,210.0 92.3,317.0 547.5,211.1 447.4,245.4 108.9,315.8 186.0,283.6 476.2,213.3 127.9,306.5 137.9,314.8 399.8,227.3 351.5,269.5 207.8,316.9 131.6,289.6 522.0,217.7 127.3,257.5 521.8,175.2 360.7,233.0 479.3,216.8 134.1,316.6 360.5,260.9 243.6,289.9 218.3,293.4 461.6,220.5 347.9,272.6 264.6,261.3 146.8,318.0 153.2,309.8 469.1,168.4 540.2,175.0 318.3,256.3 203.2,308.7 322.8,253.1 249.4,279.0 214.6,289.1 103.2,329.7 121.5,296.9 237.7,290.4 470.2,220.6 200.1,280.6 109.8,318.0 413.1,261.0 422.3,235.0 491.1,203.0 132.8,326.8 127.3,302.5 268.9,266.9 349.4,275.7 233.8,267.0 142.2,326.4 429.2,228.5 494.3,205.9 481.1,229.5 220.6,278.5 285.6,249.8 361.2,180.1 387.5,246.8 114.5,313.2 184.2,273.5 211.9,294.7 212.5,300.2 341.9,285.4 360.9,231.1 225.0,253.6 192.4,284.9 225.8,265.7 154.7,304.9 164.1,318.3 103.0,319.4 364.6,224.7 189.6,291.0 371.7,256.0 117.4,277.7 543.7,198.4 91.2,318.1 338.3,259.0 351.3,247.1 278.6,282.9 281.1,276.0 549.6,193.1 273.7,303.6 435.0,197.0 552.1,220.2 374.8,271.7 559.1,204.1 491.4,210.7 245.1,300.3 229.3,280.7 339.7,272.4 429.0,216.6 507.0,200.1 332.1,236.1 247.7,279.9 565.4,194.2 268.2,272.8 249.2,283.5 270.9,286.0 467.8,215.4 503.6,175.2 226.1,252.6 315.2,243.2 102.2,334.9 401.8,198.0 412.0,243.7 98.6,334.7 289.0,269.9 94.8,308.4 109.3,314.8 407.2,220.7 545.7,198.8 350.8,251.1 113.0,320.8 437.5,220.6 187.7,291.2 495.8,211.9 442.9,224.3 247.0,293.1 355.7,267.0 91.5,324.6 208.5,305.4 224.0,285.7 323.8,261.4 214.6,289.7 517.3,192.7 265.5,276.8 178.7,292.5 458.3,213.8 117.1,288.2 259.8,277.2 118.5,292.5 134.4,304.5 504.1,200.7 344.4,249.8 167.3,277.2 381.7,260.4 123.2,302.8 226.5,246.8 220.7,284.4 164.6,314.8 433.8,204.6 453.7,237.3 186.7,268.5 554.3,215.5 263.5,276.1 466.8,221.1 434.6,224.1 448.6,248.1 467.7,197.7 375.2,235.8 107.2,322.1 187.0,270.9 485.0,235.5 280.4,283.3 193.1,292.5 511.2,203.0 546.8,197.0 276.5,289.4 416.2,250.9 256.4,266.7 182.8,298.6 336.5,260.6 192.2,281.7 384.4,256.9 248.2,281.0 105.6,335.7 502.8,162.7 379.0,264.5 289.3,267.2 281.1,260.3 190.2,295.3 433.7,197.4 383.8,262.4 232.1,289.7 283.8,253.1 250.5,266.8 90.8,314.4 525.1,206.1 185.8,290.1 129.8,295.5 481.0,227.6 116.2,310.0 100.9,327.6 310.4,298.3 417.9,207.0 98.2,334.7 446.1,228.9 271.9,294.5 119.4,251.0 429.5,198.0 246.1,287.7 235.4,289.7 276.9,286.3 169.7,315.4 344.8,262.0 230.8,274.3 205.2,284.8 544.7,205.0 552.9,194.9 107.8,317.2 318.5,274.4 378.5,257.6 396.1,225.2 163.6,305.9 143.0,330.6 143.4,325.8 131.9,283.4 511.8,215.3 245.5,260.1 274.0,294.1 112.4,311.4 478.9,208.5 539.4,200.1 123.8,294.0 159.6,305.3 330.6,242.5 557.5,193.8 380.6,242.5 564.4,178.8 109.5,324.9 306.8,292.4 126.6,302.1 330.2,228.8 201.6,311.7 495.9,202.1 528.3,200.9 319.5,278.4 519.0,205.0 247.9,281.6 416.3,258.3 129.0,299.3 488.2,225.7 148.2,314.1 401.4,228.7 345.6,280.4 111.6,314.3 485.6,228.9 305.8,288.6 554.7,211.2 114.3,317.3 108.0,326.5 257.2,272.7 401.3,226.9 103.0,314.4 262.9,275.2 367.2,256.7 222.3,268.9 100.8,342.1 229.7,241.3 460.7,198.8 440.7,217.7 167.8,308.0 206.3,298.1 260.5,272.1 334.1,246.0 382.8,268.0 423.9,212.0 450.6,216.1 332.8,263.0 227.8,258.0 217.1,293.8 191.9,275.2 322.4,255.7 359.7,239.8 131.4,306.1 377.5,272.9 114.3,313.8 402.0,238.2 507.6,177.8 339.5,264.7 111.4,318.6 553.6,223.2 327.3,195.6 231.0,276.2 449.0,236.3 183.1,282.7 519.1,210.8 120.8,285.4 452.4,226.3 266.6,256.9 553.5,216.2 465.5,205.1 325.6,273.0 472.2,200.4 478.1,225.0 333.2,262.4 472.7,211.6 529.1,192.4 365.7,239.6 565.4,187.3 117.2,299.6 394.3,202.5 264.0,247.4 468.9,164.3 565.4,183.0 212.2,290.1 160.1,299.0 373.3,255.4 365.6,240.2 268.2,280.3 212.5,283.9 378.0,264.2 370.6,237.8 204.9,300.7 309.0,287.8 150.1,310.5 296.4,246.5 481.2,228.7 380.9,239.8 130.5,311.9 151.0,314.4 456.0,215.0 175.0,292.9 432.0,206.9 438.8,209.2 197.2,284.7 327.4,185.0 105.1,333.0 114.1,257.7 407.6,231.4 210.9,301.6 348.8,253.1 100.2,337.0 496.3,189.9 266.8,284.8 554.6,193.7 428.6,201.7 296.8,268.6 460.7,225.0 417.3,251.7 373.7,264.3 104.6,316.3 150.8,312.5 475.6,201.1 100.2,327.8 110.6,315.7 104.2,325.9 96.8,325.4 305.1,239.5 106.8,331.0 301.9,245.0 169.3,317.7 488.9,220.7 211.8,295.7 99.4,326.3 544.8,198.5 492.0,205.2 401.5,220.5 312.0,263.5 503.7,189.4 426.9,234.9 458.0,207.9 139.4,333.0 291.3,265.2 118.8,305.4 153.4,298.7 266.5,255.3 399.4,231.7 352.2,247.9 115.4,293.7 357.2,248.2 561.2,153.4 275.8,284.3 141.2,310.4 219.8,276.6 519.7,218.6 99.7,313.3 335.3,237.3 141.0,329.6 395.2,178.5 116.3,307.8 340.1,281.7 113.3,315.7 421.6,228.0 265.0,265.6 483.8,209.6 471.2,211.1 371.9,262.4 199.1,305.0 264.9,271.4 162.3,294.4 259.6,269.6 360.2,212.3 419.6,221.4 312.0,248.1 219.6,281.7 222.4,257.7 417.4,266.7 396.4,211.3 100.0,323.7 303.5,272.1 318.0,263.1 401.0,229.6 127.9,297.0 276.0,287.6 110.6,320.1 253.7,275.5 165.6,311.4 518.9,211.7 199.6,299.9 425.3,228.6 455.6,209.6 127.8,309.2 106.4,324.5 270.8,271.3 382.8,250.8 490.7,190.7 542.8,177.4 116.7,320.5 557.7,185.9 348.4,256.0 351.2,273.0 161.6,298.4 567.0,172.0 139.2,319.1 212.8,270.3 489.6,221.5 345.3,261.7 182.7,279.3 253.2,267.6 345.9,291.7 214.1,295.4 96.0,329.5 186.6,279.0 309.3,293.6 440.1,209.7 548.1,203.3 321.4,256.9 352.8,267.4 324.1,197.0 349.2,285.7 126.4,299.7 149.1,310.9 94.5,326.6 283.3,247.0 110.0,321.2 474.6,205.9 357.8,257.8 522.4,190.0 318.5,271.0 475.0,227.0 555.5,204.8 447.3,234.4 522.2,196.9 233.6,274.6 394.2,236.2 109.4,327.5 190.2,288.7 456.6,228.8 122.1,297.4 99.5,341.5 288.1,276.1 352.1,259.4 564.6,175.7 333.3,238.3 491.6,180.6 148.4,304.0 387.5,250.1 139.7,333.0 390.5,232.9 106.7,330.0 113.7,273.0 334.7,265.8 305.2,229.4 491.8,169.0 174.2,308.6 275.2,302.8 111.3,303.9 306.0,280.7 334.8,247.2 226.0,230.0 177.5,302.6 307.6,279.0 176.9,269.7 152.4,307.6 353.7,254.9 91.4,322.4 316.5,256.3 341.4,267.6 265.9,274.6 243.7,302.3 234.7,287.4 327.4,255.7 495.0,192.2 140.7,313.5 126.8,289.5 562.0,140.5 183.4,292.0 492.0,210.3 449.7,234.9 198.3,293.7 195.1,275.1 291.3,268.8 394.9,191.6 364.9,249.8 356.4,228.8 168.5,310.9 122.6,289.4 449.0,232.9 548.9,209.6 399.8,222.8 391.6,239.6 419.8,250.3 245.9,298.2 257.4,277.9 342.4,285.3 228.1,272.0 198.3,292.2 459.1,213.9 557.6,196.0 97.7,334.5 106.0,333.5 306.0,284.3 530.1,192.2 182.6,277.9 189.4,284.0 137.9,324.5 118.1,283.9 327.8,263.6 405.4,238.8 341.7,279.7 407.8,224.2 125.2,306.5 100.5,315.4 126.9,303.9 163.6,311.2 95.2,323.7 519.3,202.2 148.7,305.3 258.4,225.5 362.3,220.0 214.3,291.0 142.5,330.5 152.7,315.1 267.5,284.6 423.2,230.8 302.5,258.5 168.9,309.7 445.4,233.5 355.9,227.1 503.1,193.1 115.4,316.1 307.2,290.3 393.5,237.0 168.5,293.3 208.0,302.6 477.2,209.6 318.3,264.5 127.4,307.8 529.2,203.0 266.8,260.0 226.4,263.0 243.0,276.1 518.3,198.3 173.6,302.0 168.7,312.7 482.7,210.3 427.3,191.2 345.9,271.1 387.6,229.5 364.3,256.9 456.4,223.4 495.3,171.0 431.8,225.0 415.4,246.8 501.1,198.3 270.1,292.2 215.4,276.2 130.7,276.6 233.2,285.2 377.5,273.9 337.3,259.0 488.6,227.3 149.9,312.6 263.5,272.0 112.4,298.7 104.4,325.1 190.1,271.2 351.1,246.6 486.3,228.8 191.7,297.6 365.3,258.7 346.5,279.1 497.8,198.2 485.6,226.7 499.0,184.9 303.7,249.4 100.1,336.5 185.9,294.9 232.8,268.3 134.3,324.4 205.4,297.4 378.9,265.8 377.9,258.0 424.7,229.3 440.6,214.6 207.3,299.6 369.7,226.0 369.8,208.5 226.6,231.5 133.9,329.1 187.0,272.0 314.6,280.1 512.2,174.4 227.5,276.8 416.2,256.7 202.7,312.9 432.5,215.8 254.3,276.9 434.2,214.9 381.6,252.6 249.5,241.7 194.4,280.2 277.3,293.0 206.2,315.0 198.8,265.6 450.6,227.7 347.5,282.8 131.7,312.9 118.7,285.2 468.8,203.6 363.4,248.1 411.0,251.7 384.1,257.2 132.0,315.0 388.7,182.3 497.9,200.7 312.2,280.3 398.3,220.2 467.8,201.9 350.8,264.2 436.3,211.4 350.2,258.8 486.8,229.5 177.2,304.1 380.6,241.9 184.0,287.6 404.9,233.4 530.8,189.6 163.2,305.1 454.8,229.3 529.9,170.8 567.3,198.6 437.6,210.6 164.1,309.2 206.3,300.0 462.2,204.1 333.1,221.6 562.6,186.1 188.3,297.2 256.4,279.7 540.9,188.0 507.4,192.8 462.2,216.2 166.4,320.5 320.4,238.0 212.6,302.0 190.1,297.6 169.3,318.2 353.6,258.9 171.8,311.5 196.3,291.7 112.6,289.9 509.4,172.9 291.1,270.7 499.7,185.3 251.0,279.4 183.9,299.7 127.8,308.0 526.8,202.2 304.4,278.8 431.1,217.2 109.8,311.5 398.9,230.3 142.7,331.1 221.6,284.6 454.6,210.2 399.0,182.6 323.7,253.2 394.2,191.4 480.6,205.2 294.8,248.6 485.1,231.5 148.3,320.1 200.5,297.4 249.7,285.2 530.6,187.5 183.8,278.9 562.6,195.8 322.2,231.1 152.9,304.6 187.3,283.8 176.2,314.3 290.5,272.3 301.2,247.1 188.7,237.6 364.9,237.1 490.4,199.1 451.9,239.7 559.9,178.4 454.5,214.6 215.6,289.7 273.6,295.4 97.5,326.7 263.4,250.3 248.2,282.4 130.5,303.2 101.8,327.5 423.8,230.4 395.2,182.2 499.2,189.0 300.7,269.0 281.0,268.3 139.1,321.0 111.3,317.9 279.8,293.9 307.6,275.9 381.3,270.1 180.9,282.5 297.5,270.8 467.6,221.0 247.3,291.5 454.3,196.6 226.9,256.6 168.8,321.0 516.5,207.3 447.5,239.5 526.1,183.9 343.2,255.4 456.3,213.9 171.4,305.2 402.3,223.3 185.0,283.1 108.4,320.1 495.5,162.8 92.3,317.5 218.6,286.4 205.2,291.1 295.1,260.0 251.1,266.8 459.1,206.2 134.3,322.5 173.3,306.3 423.5,204.4 301.4,245.2 534.0,186.8 485.9,225.7 273.3,298.3 519.3,183.2 543.1,183.5 102.9,318.8 567.8,176.8 229.1,289.2 523.7,214.2 123.4,286.9 123.7,298.8 103.3,333.0 435.6,201.5 247.9,280.7 338.3,243.5 249.1,278.2 137.4,323.0 164.1,312.0 104.5,318.4 342.8,273.4 551.8,208.1 423.6,222.1 212.8,306.1 401.2,211.8 137.7,328.6 345.3,288.5 494.0,203.1 192.0,286.7 298.9,256.5 378.0,271.9 269.8,290.3 521.4,205.8 148.2,308.5 536.4,202.0 102.1,337.9 358.4,243.2 436.7,208.7 200.9,307.0 334.5,256.4 320.7,245.4 363.5,242.1 388.5,237.0 311.7,256.1 337.1,241.6 231.1,267.8 355.9,244.6 309.4,297.1 467.3,210.1 388.2,239.3 493.4,201.1 338.5,271.4 443.6,217.2 311.9,298.7 417.1,248.2 335.9,236.2 565.0,191.3 462.0,189.0 121.2,291.5 272.7,293.4 261.6,270.2 451.3,245.2 210.4,294.8 165.7,319.3 501.6,199.2 121.5,298.1 216.8,273.7 171.6,313.8 103.9,333.6 425.0,206.1 496.1,203.5 131.5,295.6 341.5,276.0 418.9,254.7 135.7,308.2 487.4,221.8 561.0,172.7 268.2,280.7 397.2,227.8 342.1,272.6 364.8,206.6 361.9,248.1 143.2,325.0 549.5,191.4 153.3,307.5 136.6,318.4 203.5,304.4 405.2,242.7 499.7,180.0 463.3,207.5 533.6,204.5 217.8,269.7 332.5,256.6 518.5,196.7 204.9,306.7 99.6,340.7 114.7,310.6 154.7,300.9 473.8,189.5 288.4,265.7 201.7,305.0 381.9,268.1 424.0,209.3 94.7,300.7 94.6,298.3 105.0,302.7 105.5,299.8 105.7,295.3 110.4,287.6 110.8,287.1 114.0,275.7 114.0,272.8 113.6,274.4 113.7,274.5 118.5,254.1 118.6,258.1 118.6,257.1 118.1,253.0 119.4,246.5 119.6,252.6 120.8,259.3 119.9,261.1 120.1,258.3 123.9,267.6 123.0,268.0 123.0,268.5 123.1,267.1 126.8,274.4 126.8,274.3 126.0,274.5 126.6,274.2 127.2,273.2 126.8,269.1 127.5,263.0 127.3,271.0 133.5,283.7 133.5,282.5 133.8,282.4 148.5,296.1 152.2,285.4 152.1,282.7 152.3,282.7 152.8,292.2 153.1,295.4 153.4,295.7 153.0,293.9 153.0,295.5 153.3,287.0 153.4,292.9 153.3,295.8 169.4,275.1 169.2,276.1 169.6,275.4 169.6,272.1 170.0,270.0 171.7,266.6 172.3,267.4 172.3,262.4 172.1,262.1 172.4,267.5 171.5,265.7 174.8,265.1 176.7,264.2 176.9,264.0 177.7,257.9 178.5,252.1 178.1,245.8 186.4,249.0 188.3,245.0 188.0,249.1 188.0,247.6 188.1,255.9 188.1,253.5 188.2,252.4 193.0,255.1 193.4,257.1 212.2,268.2 212.1,268.1 214.3,256.0 213.6,263.4 217.3,252.0 217.4,255.5 217.3,258.0 218.4,245.3 220.0,251.4 220.8,251.7 225.7,240.6 225.9,241.7 226.8,244.2 229.2,238.5 233.7,255.9 233.9,256.9 247.2,260.5 247.1,259.4 247.4,260.4 251.5,237.9 254.2,238.9 254.3,235.3 257.5,241.5 257.3,226.7 258.0,227.1 257.6,241.1 257.2,241.0 257.6,239.9 257.0,235.1 257.4,234.6 258.6,242.8 258.5,242.1 259.0,241.4 258.2,242.1 258.6,241.4 260.0,228.1 259.8,231.4 261.4,238.5 261.0,238.7 261.3,234.1 261.1,234.7 261.4,234.1 261.2,234.5 261.2,237.7 261.0,238.2 260.8,236.1 262.3,231.9 261.5,229.1 262.4,232.0 261.8,225.4 263.4,234.5 264.7,250.6 276.1,258.7 276.2,257.6 276.1,257.5 276.2,256.4 276.0,252.8 281.6,234.8 282.4,231.7 282.1,233.6 289.9,228.9 289.9,236.0 290.2,230.6 294.6,226.3 295.6,223.9 295.5,218.8 295.4,217.2 295.7,226.5 295.4,226.6 297.9,224.3 297.7,221.9 303.1,226.7 303.1,227.2 308.7,257.6 308.5,259.2 308.2,257.8 308.0,255.8 307.9,253.3 307.4,251.1 314.6,236.1 315.1,239.1 314.8,238.6 316.1,230.3 316.5,231.1 318.7,215.6 318.8,225.9 318.4,221.1 321.3,225.0 321.9,224.8 322.8,221.2 323.6,221.2 322.5,220.2 323.6,220.6 323.2,219.6 324.5,219.5 325.3,215.4 325.0,204.7 326.3,209.6 326.3,205.8 326.8,201.5 327.0,207.6 328.8,200.9 329.0,206.1 328.2,208.7 328.3,198.6 328.0,204.6 329.1,211.0 328.6,211.7 328.5,210.8 331.4,214.9 331.0,215.2 330.8,213.3 330.8,212.7 330.9,200.2 330.2,212.8 330.5,203.9 331.0,206.5 334.7,227.0 344.4,244.3 344.0,246.7 344.1,246.8 344.0,242.6 347.9,239.1 350.3,233.1 350.3,234.0 350.9,232.4 350.7,232.0 351.9,223.5 351.6,222.0 353.4,212.0 354.6,213.2 357.8,217.7 357.9,217.8 360.2,208.4 359.5,207.9 359.8,210.2 359.2,211.7 363.2,198.2 363.2,201.2 364.0,213.0 366.8,218.2 366.0,218.7 370.5,217.8 370.5,229.0 371.0,228.6 371.0,229.4 371.1,229.7 371.0,228.6 389.0,194.4 389.2,192.5 394.7,183.2 396.2,173.4 395.9,177.0 397.5,178.2 399.0,182.6 401.3,183.3 401.1,175.4 401.1,177.4 401.1,179.2 405.9,199.1 405.1,200.2 405.5,199.0 405.6,203.2 405.7,199.1 405.4,201.2 408.6,213.8 408.2,212.8 408.1,212.0 407.9,210.9 408.1,201.0 410.1,206.7 409.5,208.9 409.3,205.5 411.7,216.3 411.8,215.5 411.1,207.6 415.7,201.9 415.5,200.8 416.9,206.0 421.3,176.8 428.5,176.2 428.0,174.6 429.2,164.1 428.6,168.8 431.1,179.5 430.6,179.0 430.5,178.3 431.9,180.1 431.9,180.3 431.8,180.6 433.9,178.7 434.1,167.1 434.1,177.1 433.7,178.9 439.3,185.7 440.8,193.9 440.7,194.5 448.0,198.7 447.8,200.7 448.2,200.5 448.2,189.7 450.2,177.4 453.5,167.7 456.5,181.1 456.2,181.1 457.6,177.7 456.8,179.2 457.8,179.2 458.3,179.1 458.7,179.4 459.0,163.7 458.8,166.8 458.6,165.7 458.4,172.7 462.1,177.5 462.0,177.7 465.2,177.1 465.0,174.3 465.5,176.4 465.1,176.3 465.0,176.3 465.5,174.0 466.0,175.2 465.5,175.9 469.0,179.7 469.1,179.8 469.0,179.4 468.6,179.4 468.7,179.4 469.6,176.3 470.0,175.4 470.4,178.6 471.0,175.5 470.9,177.7 473.7,184.0 474.0,184.4 474.4,179.9 474.4,181.9 478.1,185.4 478.3,194.6 488.6,175.0 488.5,176.4 488.8,182.3 488.3,188.3 488.1,190.6 488.4,190.7 490.0,183.7 491.6,160.8 491.6,170.4 491.4,165.0 491.6,162.2 494.1,167.4 498.1,156.9 498.6,154.8 498.5,159.4 497.4,161.7 500.0,146.2 499.6,148.4 500.6,159.5 501.2,162.4 501.1,159.8 501.3,160.1 503.5,162.5 509.3,161.4 524.1,165.2 524.1,166.8 528.6,167.1 528.2,166.3 529.2,167.5 529.4,166.2 529.4,167.8 529.1,165.6 529.0,164.1 528.8,165.4 528.8,169.0 529.4,167.2 531.9,159.8 531.3,160.3 531.2,150.9 535.2,166.4 536.1,165.9 536.4,165.6 536.4,165.9 536.3,165.7 537.1,160.6 539.5,169.1 539.3,169.1 540.9,167.8 541.5,169.0 542.0,173.0 542.4,172.8 542.5,173.2 542.2,170.6 544.1,170.4 544.3,161.1 544.0,168.7 550.3,181.3 550.1,187.8 549.9,182.1 553.4,174.3 552.7,173.6 555.1,162.0 557.2,162.8 556.7,162.7 556.5,161.4 556.7,162.3 561.1,158.3 561.5,152.0 563.2,151.5 563.7,156.0 563.6,155.3 562.9,155.7 563.7,156.8 563.8,157.0 563.8,155.1 566.6,147.8 567.0,146.6 566.7,152.8 568.0,151.4 567.8,152.8 568.4,150.4 568.1,148.9 567.9,141.9 118.2,217.0 118.2,226.2 117.5,230.5 118.2,235.5 123.8,233.2 132.5,231.2 122.0,243.0 117.5,245.5 123.0,245.5 117.5,249.5 120.0,251.2 123.8,250.5 133.2,248.0 132.0,251.8 128.8,254.5 123.8,255.5 133.8,258.8 128.8,258.8 94.2,261.2 107.5,258.0 112.5,266.2 115.0,262.5 104.2,272.0 110.0,270.0 94.2,278.0 94.2,279.5 97.0,286.2 104.2,285.5 150.5,245.5 152.5,256.2 150.0,260.5 153.0,260.5 152.5,275.5 149.5,283.0 139.5,288.0 120.5,314.5 192.5,308.5 192.5,313.5 192.5,315.3 230.5,317.2 260.5,292.2 364.5,272.5 391.5,259.8 210.5,315.0 191.2,197.5 183.2,203.2 193.2,213.2 193.2,219.5 182.5,224.2 183.8,225.0 191.2,226.2 191.2,228.0 183.8,231.2 194.5,233.0 185.5,235.5 185.5,237.5 177.5,240.5 180.0,242.5 191.2,239.2 191.2,241.2 192.0,243.0 194.2,246.2 194.2,249.2 178.2,250.0 196.2,252.5 183.8,254.2 190.0,255.5 171.2,256.2 177.5,257.0 168.8,262.5 173.8,260.5 167.5,270.0 223.2,209.2 217.5,219.5 224.2,217.0 227.5,216.2 224.2,225.0 226.2,225.5 218.8,230.0 213.8,234.5 225.0,235.0 216.8,238.8 216.2,248.0 212.5,256.2 210.0,259.5 229.2,214.5 229.2,216.2 225.0,217.5 226.2,218.0 224.2,221.2 229.2,220.5 225.5,231.2 213.2,233.8 255.5,181.2 260.5,192.5 259.5,211.2 257.5,214.5 251.2,216.2 260.8,218.8 260.8,220.8 253.8,219.5 253.8,223.0 263.2,225.5 253.8,226.2 253.0,230.0 254.5,231.2 259.5,229.5 263.8,229.5 264.5,232.5 283.2,155.0 283.2,163.2 283.2,176.2 283.2,188.8 283.2,190.5 283.2,202.5 283.2,204.5 289.5,196.2 287.5,210.0 283.2,219.2 282.5,223.8 277.5,230.0 299.5,160.0 299.5,180.5 299.5,183.0 299.5,196.2 302.5,201.2 299.5,205.0 296.2,207.5 295.0,210.0 299.5,210.8 295.0,215.0 293.8,217.5 296.2,218.8 296.2,222.5 292.5,223.8 295.0,225.0 290.0,228.8 293.8,228.8 297.5,228.8 302.0,227.5 326.2,157.5 330.5,161.2 330.5,172.5 330.5,174.2 316.2,177.5 322.0,178.2 324.5,178.2 330.5,178.0 326.2,184.2 330.5,185.5 331.2,192.5 332.5,194.5 312.5,196.8 312.5,198.0 330.5,198.0 320.0,199.5 322.5,199.5 319.2,202.5 326.2,206.2 326.2,208.0 312.5,208.8 331.2,208.8 321.2,211.2 323.8,212.5 327.5,211.2 322.5,215.0 326.2,215.0 331.2,215.5 325.0,217.5 331.2,217.5 319.2,220.0 326.2,221.2 312.5,223.8 312.5,225.5 321.2,225.0 316.2,227.5 335.0,223.8 312.5,229.5 317.5,231.2 358.0,181.2 358.0,187.5 358.0,193.0 351.2,207.5 356.2,210.0 355.0,215.5 353.8,218.0 357.5,217.5 350.0,222.5 355.0,222.5 347.0,229.5 351.2,230.5 364.5,177.0 358.8,181.2 364.5,182.0 358.8,187.0 358.8,192.5 400.0,134.2 403.0,134.2 397.5,137.0 387.5,148.0 397.5,146.2 392.5,155.0 398.2,160.0 388.0,163.0 387.5,165.0 401.2,163.8 402.5,169.2 397.5,170.0 396.2,172.5 395.0,175.0 398.8,176.2 387.5,180.0 387.5,182.0 398.8,180.0 400.5,181.2 393.8,183.8 396.2,185.0 391.2,188.8 393.8,190.0 387.5,193.8 429.5,130.5 425.5,144.2 425.5,151.2 429.5,154.5 432.0,158.2 426.2,163.8 435.5,165.5 425.0,168.8 422.5,169.5 431.2,170.0 434.5,168.8 421.2,173.8 423.8,174.5 428.8,174.5 422.5,178.8 430.0,177.5 423.8,182.5 427.5,181.2 432.5,181.2 436.2,180.0 422.5,186.2 427.5,186.2 433.8,185.0 438.8,185.0 423.8,191.2 431.2,191.2 438.8,191.2 413.0,193.8 470.5,117.5 467.5,125.5 463.2,127.5 458.8,135.0 465.5,134.2 467.5,140.5 463.2,146.2 467.5,146.2 471.2,145.5 466.2,150.0 463.2,152.5 463.2,154.5 471.2,153.0 457.5,162.0 473.2,161.2 473.2,162.5 463.2,166.2 448.8,168.0 458.8,168.8 456.2,170.0 470.0,168.2 448.8,175.5 452.5,174.5 462.5,172.5 470.0,173.8 458.8,175.5 462.5,176.2 473.8,177.5 475.0,178.8 448.8,181.2 448.8,184.5 453.8,180.0 456.2,182.5 460.0,181.2 465.0,181.2 468.8,181.2 455.0,185.0 458.8,186.2 467.5,185.5 472.5,185.0 477.5,188.8 475.0,191.2 456.2,191.2 460.0,191.2 490.5,125.5 490.5,142.0 493.0,146.2 491.2,162.5 490.0,165.5 493.0,168.8 491.8,177.5 491.2,182.5 487.5,187.5 491.2,188.8 537.5,62.5 559.5,92.5 498.8,110.0 499.2,113.0 537.5,112.0 559.5,113.2 559.5,122.5 521.2,126.2 521.2,129.5 568.2,125.0 537.5,130.5 558.2,130.5 567.0,131.2 498.8,133.8 503.8,133.2 532.5,134.2 565.5,134.2 540.5,136.8 522.5,138.2 526.2,138.2 568.2,137.5 503.8,140.0 508.0,140.0 499.2,143.0 505.0,143.8 508.0,143.8 524.2,143.0 538.8,143.8 541.2,144.5 559.5,143.0 565.0,142.0 492.5,146.2 498.0,146.2 507.5,148.8 520.8,148.8 524.2,147.5 539.5,146.2 562.5,146.2 567.5,145.5"/>
<polyline fill="none" stroke="#000" stroke-width="2.7" stroke-linejoin="round" stroke-linecap="butt" points="91.4,304.0 94.0,299.0 96.4,310.0 100.0,323.0 103.0,318.0 105.0,314.0 107.4,311.0 110.6,297.0 113.0,303.6 115.0,290.0 117.0,266.0 120.0,285.0 122.0,274.0 124.0,284.0 127.0,298.0 130.0,298.0 132.4,290.0 135.0,304.0 137.4,314.0 141.0,321.0 143.4,312.0 146.0,303.0 149.4,301.6 152.0,288.0 154.6,275.6 157.0,283.0 159.4,293.0 162.0,298.0 164.0,299.0 166.6,293.6 169.4,304.0 173.0,300.0 176.0,289.0 178.0,281.0 180.6,280.0 183.4,265.0 185.6,272.0 187.6,287.0 190.0,274.0 192.4,269.0 195.0,272.0 197.6,283.0 201.0,295.0 205.0,308.0 207.4,298.0 210.0,290.0 212.6,283.6 215.6,282.4 218.6,279.6 222.0,268.0 224.4,257.0 227.0,255.6 229.0,255.0 231.0,263.0 233.4,275.0 236.4,283.0 239.0,289.6 242.0,293.0 244.6,282.0 246.6,277.0 249.0,276.0 251.0,260.0 253.0,249.0 255.0,259.0 257.0,266.0 259.4,256.0 262.0,254.0 264.4,258.0 267.0,267.0 270.0,276.0 272.6,286.0 274.6,293.6 277.0,281.0 279.4,270.0 281.4,250.0 283.4,232.0 285.4,250.0 287.0,263.0 289.4,253.6 292.0,253.0 294.4,245.0 297.0,239.6 299.4,245.0 302.0,254.0 304.4,263.0 306.0,278.0 308.0,290.0 310.0,272.0 311.4,262.0 314.0,273.0 316.6,265.0 319.4,256.0 322.0,248.0 324.4,241.0 326.6,247.0 328.6,235.0 330.6,227.6 332.6,242.0 335.0,256.0 337.4,260.0 340.0,265.0 342.6,271.0 345.0,274.0 347.4,268.0 350.0,259.0 352.4,253.0 354.6,249.0 356.6,238.0 358.6,229.0 361.0,239.0 363.6,244.0 366.0,240.0 368.0,240.0 370.6,250.0 373.0,257.0 375.4,258.0 377.0,256.0 380.0,260.0 382.8,251.0 384.8,237.0 388.3,216.0 390.8,225.5 393.0,212.0 395.6,196.0 397.4,191.6 399.0,198.0 401.0,214.0 403.6,228.0 405.6,235.0 408.4,232.4 411.0,235.6 413.4,240.0 416.0,247.0 418.4,232.0 420.4,216.0 422.4,204.0 424.4,207.0 426.4,211.0 428.4,200.0 430.4,195.0 433.0,205.0 435.6,202.0 438.0,202.0 440.0,210.0 442.4,219.0 444.0,224.0 446.0,222.0 448.0,230.0 449.6,232.4 452.0,223.0 454.4,213.0 457.0,204.0 459.4,202.0 461.6,194.0 463.6,186.0 466.0,192.0 468.6,195.0 471.0,198.0 473.6,199.6 476.2,208.5 478.7,217.5 481.3,224.5 484.2,227.5 486.7,218.5 489.2,203.5 491.6,193.8 494.2,192.5 496.2,180.5 498.2,171.0 500.0,178.0 502.0,187.0 504.0,179.0 505.6,176.0 508.0,184.0 510.4,191.0 513.0,200.0 515.0,208.0 517.0,214.0 519.0,203.0 521.4,192.0 524.0,190.4 526.4,191.0 528.4,193.0 531.0,189.0 533.6,187.0 536.0,178.0 538.0,170.0 540.0,176.0 542.0,189.0 544.4,193.0 547.0,192.0 549.0,204.0 551.0,214.0 553.0,202.0 555.0,190.0 557.4,180.0 559.4,174.0 562.0,185.0 564.0,176.0 566.4,170.0 568.4,174.0 570.0,177.0"/></g>
<rect x="84.5" y="48.5" width="486" height="308" fill="none" stroke="#000" stroke-width="1.11"/>
<line x1="84.5" y1="356.5" x2="84.5" y2="361.36" stroke="#000" stroke-width="1.11"/>
<text x="83.9" y="376.9" font-size="14.7" text-anchor="middle" textLength="35.4" lengthAdjust="spacingAndGlyphs">2012</text>
<line x1="119.5" y1="356.5" x2="119.5" y2="359.28" stroke="#000" stroke-width="0.83"/>
<line x1="153.5" y1="356.5" x2="153.5" y2="361.36" stroke="#000" stroke-width="1.11"/>
<text x="152.9" y="376.9" font-size="14.7" text-anchor="middle" textLength="35.4" lengthAdjust="spacingAndGlyphs">2014</text>
<line x1="188.5" y1="356.5" x2="188.5" y2="359.28" stroke="#000" stroke-width="0.83"/>
<line x1="223.5" y1="356.5" x2="223.5" y2="361.36" stroke="#000" stroke-width="1.11"/>
<text x="222.9" y="376.9" font-size="14.7" text-anchor="middle" textLength="35.4" lengthAdjust="spacingAndGlyphs">2016</text>
<line x1="258.5" y1="356.5" x2="258.5" y2="359.28" stroke="#000" stroke-width="0.83"/>
<line x1="292.5" y1="356.5" x2="292.5" y2="361.36" stroke="#000" stroke-width="1.11"/>
<text x="291.9" y="376.9" font-size="14.7" text-anchor="middle" textLength="35.4" lengthAdjust="spacingAndGlyphs">2018</text>
<line x1="327.5" y1="356.5" x2="327.5" y2="359.28" stroke="#000" stroke-width="0.83"/>
<line x1="362.5" y1="356.5" x2="362.5" y2="361.36" stroke="#000" stroke-width="1.11"/>
<text x="361.9" y="376.9" font-size="14.7" text-anchor="middle" textLength="35.4" lengthAdjust="spacingAndGlyphs">2020</text>
<line x1="396.5" y1="356.5" x2="396.5" y2="359.28" stroke="#000" stroke-width="0.83"/>
<line x1="431.5" y1="356.5" x2="431.5" y2="361.36" stroke="#000" stroke-width="1.11"/>
<text x="430.9" y="376.9" font-size="14.7" text-anchor="middle" textLength="35.4" lengthAdjust="spacingAndGlyphs">2022</text>
<line x1="466.5" y1="356.5" x2="466.5" y2="359.28" stroke="#000" stroke-width="0.83"/>
<line x1="501.5" y1="356.5" x2="501.5" y2="361.36" stroke="#000" stroke-width="1.11"/>
<text x="500.9" y="376.9" font-size="14.7" text-anchor="middle" textLength="35.4" lengthAdjust="spacingAndGlyphs">2024</text>
<line x1="535.5" y1="356.5" x2="535.5" y2="359.28" stroke="#000" stroke-width="0.83"/>
<line x1="570.5" y1="356.5" x2="570.5" y2="361.36" stroke="#000" stroke-width="1.11"/>
<text x="569.9" y="376.9" font-size="14.7" text-anchor="middle" textLength="35.4" lengthAdjust="spacingAndGlyphs">2026</text>
<line x1="79.64" y1="356.5" x2="84.5" y2="356.5" stroke="#000" stroke-width="1.11"/>
<text x="74.4" y="361.8" font-size="14.7" text-anchor="end" textLength="35.4" lengthAdjust="spacingAndGlyphs">1850</text>
<line x1="79.64" y1="311.5" x2="84.5" y2="311.5" stroke="#000" stroke-width="1.11"/>
<text x="74.4" y="316.8" font-size="14.7" text-anchor="end" textLength="35.4" lengthAdjust="spacingAndGlyphs">1900</text>
<line x1="79.64" y1="265.5" x2="84.5" y2="265.5" stroke="#000" stroke-width="1.11"/>
<text x="74.4" y="270.8" font-size="14.7" text-anchor="end" textLength="35.4" lengthAdjust="spacingAndGlyphs">1950</text>
<line x1="79.64" y1="220.5" x2="84.5" y2="220.5" stroke="#000" stroke-width="1.11"/>
<text x="74.4" y="225.8" font-size="14.7" text-anchor="end" textLength="35.4" lengthAdjust="spacingAndGlyphs">2000</text>
<line x1="79.64" y1="175.5" x2="84.5" y2="175.5" stroke="#000" stroke-width="1.11"/>
<text x="74.4" y="180.8" font-size="14.7" text-anchor="end" textLength="35.4" lengthAdjust="spacingAndGlyphs">2050</text>
<line x1="79.64" y1="129.5" x2="84.5" y2="129.5" stroke="#000" stroke-width="1.11"/>
<text x="74.4" y="134.8" font-size="14.7" text-anchor="end" textLength="35.4" lengthAdjust="spacingAndGlyphs">2100</text>
<line x1="79.64" y1="84.5" x2="84.5" y2="84.5" stroke="#000" stroke-width="1.11"/>
<text x="74.4" y="89.8" font-size="14.7" text-anchor="end" textLength="35.4" lengthAdjust="spacingAndGlyphs">2150</text>
<text x="327.7" y="39.35" font-size="19.7" text-anchor="middle" textLength="32.8" lengthAdjust="spacingAndGlyphs">Utö</text>
<g transform="translate(26.2,202.5) rotate(-90)"><text x="-43.6" y="0" font-size="18.6" textLength="24.6" lengthAdjust="spacingAndGlyphs">CH</text><text x="-18" y="2.6" font-size="12.8" textLength="7.4" lengthAdjust="spacingAndGlyphs">4</text><text x="-4" y="0" font-size="18.6" textLength="49.4" lengthAdjust="spacingAndGlyphs">[ppb]</text></g>
</svg></body></html>
